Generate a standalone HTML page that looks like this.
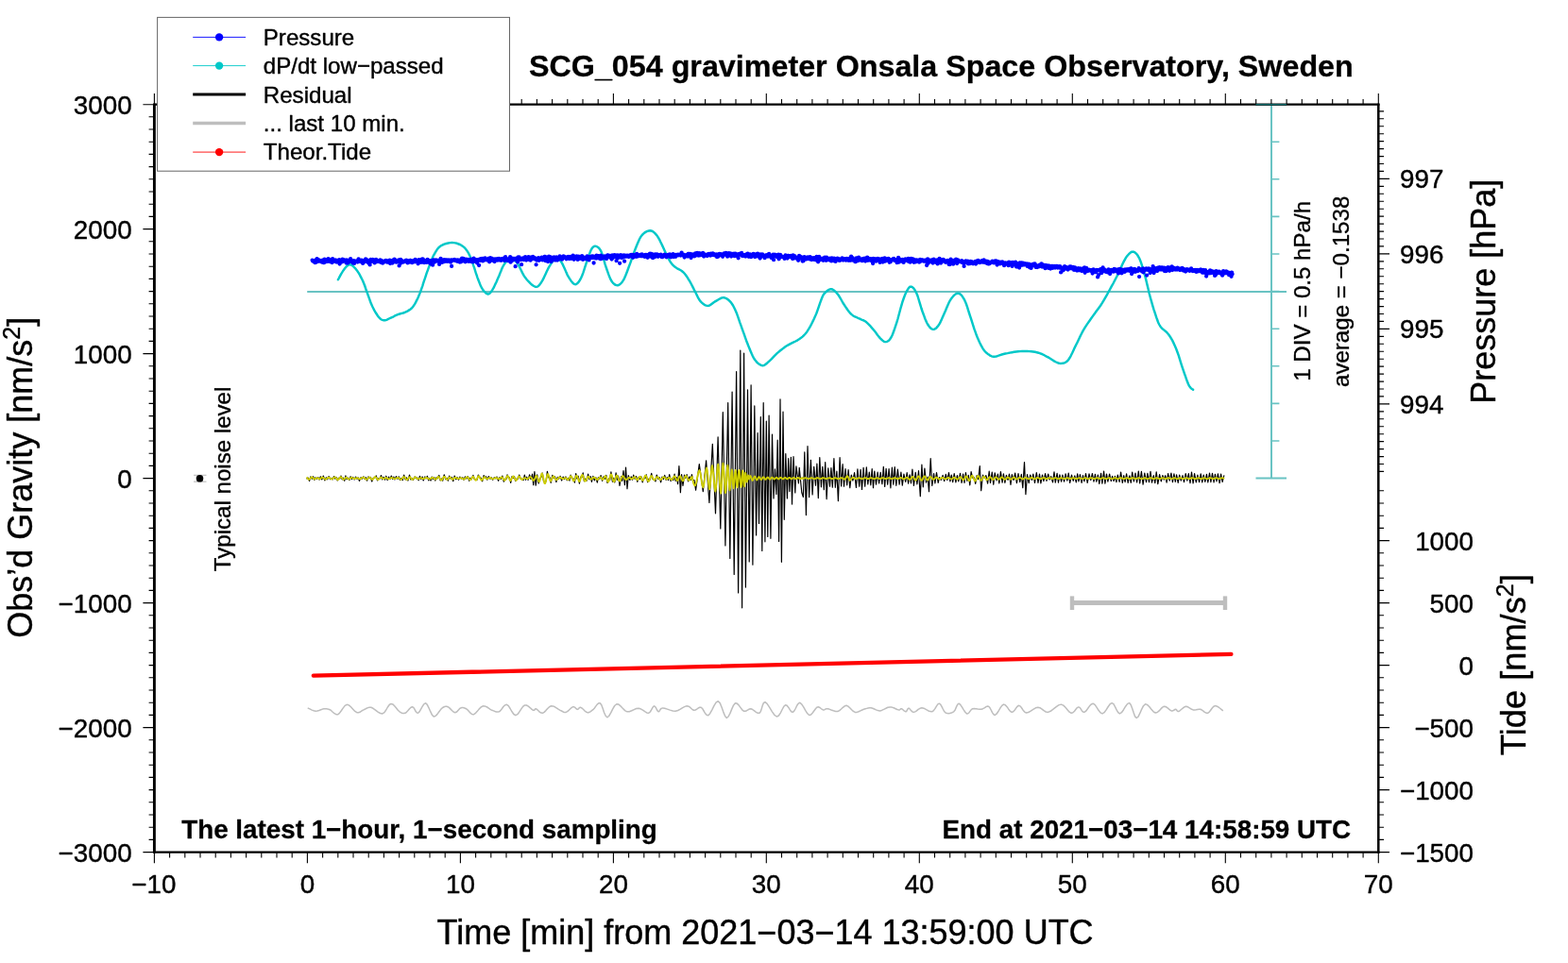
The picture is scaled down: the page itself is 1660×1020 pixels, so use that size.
<!DOCTYPE html>
<html lang="en"><head><meta charset="utf-8"><title>SCG_054 gravimeter Onsala Space Observatory, Sweden</title>
<style>html,body{margin:0;padding:0;background:#fff;}body{width:1660px;height:1020px;overflow:hidden;}svg{display:block;}text{font-family:"Liberation Sans", Arial, Helvetica, sans-serif;fill:#000;stroke:#000;stroke-width:0.4px;stroke-linejoin:round;}.b{stroke-width:0.3px}.l{stroke-width:0.55px}.s{stroke-width:0.35px}</style></head><body>
<svg width="1660" height="1020" viewBox="0 0 1660 1020">
<rect width="1660" height="1020" fill="#fff"/>
<g stroke="#69c3c3" stroke-width="2" fill="none">
<line x1="325.2" y1="309" x2="1362" y2="309"/>
<line x1="1346" y1="110.7" x2="1346" y2="506.6"/>
<line x1="1329.5" y1="110.9" x2="1362" y2="110.9"/>
<line x1="1329.5" y1="506.6" x2="1362" y2="506.6"/>
<path d="M1346 150.2h8.4M1346 189.8h8.4M1346 229.4h8.4M1346 269h8.4M1346 308.6h8.4M1346 348.2h8.4M1346 387.8h8.4M1346 427.4h8.4M1346 467h8.4" stroke-width="1.6"/>
</g>
<polyline points="357.9,296.1 358.7,294.8 359.7,292.9 360.9,290.7 362.2,288.5 363.5,286.4 364.7,284.8 365.7,283.5 366.7,282.4 367.7,281.5 368.6,280.8 369.6,280.4 370.6,280.3 371.7,280.6 372.8,281.1 373.9,282 375,283.1 376.2,284.3 377.3,285.7 378.5,287.3 379.7,289.2 380.9,291.2 382,293.4 383.1,295.5 384.1,297.5 384.9,299.4 385.6,301.2 386.3,303 386.9,304.8 387.5,306.8 388.3,308.9 389.2,311.3 390.1,313.9 391.1,316.7 392.1,319.5 393.1,322.1 394.2,324.5 395.3,326.7 396.4,328.9 397.6,331 398.8,332.8 399.9,334.5 401,335.9 402,337 403,337.9 403.9,338.5 404.8,338.9 405.8,339.2 406.9,339.3 408.1,339.2 409.3,338.8 410.6,338.2 411.9,337.5 413.2,336.9 414.4,336.3 415.6,335.8 416.7,335.3 417.7,334.7 418.8,334.2 420,333.7 421.2,333.2 422.5,332.7 423.9,332.3 425.4,331.9 426.9,331.5 428.3,331 429.6,330.4 430.8,329.8 432.1,329.1 433.2,328.4 434.3,327.7 435.4,326.8 436.4,325.8 437.3,324.7 438.2,323.4 439.1,322.1 439.9,320.7 440.6,319.2 441.4,317.7 442.1,316.2 442.8,314.7 443.5,313.1 444.2,311.4 444.9,309.6 445.6,307.6 446.4,305.3 447.3,302.8 448.1,300.1 449,297.4 449.9,294.8 450.7,292.4 451.4,290.2 452.1,288.2 452.8,286.3 453.5,284.4 454.2,282.5 454.9,280.6 455.7,278.6 456.5,276.5 457.3,274.5 458.1,272.5 459,270.6 460,268.8 461,267.1 461.9,265.6 462.9,264.1 464,262.7 465.3,261.5 466.7,260.4 468.4,259.5 470.3,258.7 472.4,258 474.5,257.5 476.6,257.1 478.5,257 480.3,257.1 482.1,257.4 483.9,257.8 485.6,258.5 487.2,259.2 488.7,260 490,260.9 491.3,261.9 492.4,263 493.4,264.2 494.4,265.6 495.4,267.1 496.3,268.8 497.2,270.6 498.1,272.5 498.9,274.5 499.7,276.7 500.5,278.9 501.3,281.3 502.2,283.8 503,286.5 503.8,289.2 504.7,291.7 505.5,294.1 506.3,296.3 507.2,298.5 508,300.6 508.8,302.6 509.7,304.3 510.6,305.9 511.5,307.3 512.5,308.6 513.6,309.7 514.6,310.6 515.6,311.2 516.5,311.5 517.4,311.4 518.2,311 519,310.2 519.8,309.3 520.6,308.1 521.5,306.7 522.4,305.1 523.4,303.1 524.4,300.9 525.5,298.7 526.5,296.3 527.5,294.1 528.5,291.8 529.4,289.4 530.4,287 531.3,284.6 532.3,282.5 533.4,280.6 534.5,278.9 535.7,277.4 536.9,276 538.1,274.9 539.3,274.2 540.5,273.8 541.7,273.8 542.8,274.2 544,275 545.2,276 546.4,277.3 547.7,278.9 549,280.9 550.3,283.4 551.7,286.2 553.1,289.1 554.6,291.8 556.1,294.1 557.8,296.2 559.6,298.2 561.5,300.1 563.3,301.8 565.1,303 566.6,303.7 567.9,303.9 569,303.6 570,302.9 571,301.9 572,300.6 573,299.2 574.1,297.4 575.3,295.2 576.4,292.7 577.6,290.2 578.7,287.8 579.7,285.7 580.6,283.9 581.5,282.3 582.4,280.9 583.2,279.5 584,278.3 584.8,277.2 585.6,276.1 586.4,275 587.1,274.1 587.9,273.3 588.7,272.9 589.5,272.8 590.4,273.1 591.3,273.8 592.2,274.7 593.1,275.9 594.1,277.3 595.1,278.9 596.1,280.9 597.2,283.3 598.4,285.9 599.5,288.6 600.6,291.1 601.8,293.2 603,295.1 604.2,296.9 605.4,298.5 606.6,299.9 607.8,300.8 608.9,301.2 610,301 611.1,300.3 612.2,299.2 613.2,297.8 614.3,296 615.3,294.1 616.3,291.8 617.3,289.1 618.3,286.1 619.3,282.9 620.3,279.9 621.2,277.2 622.1,274.6 623,272.1 623.8,269.6 624.7,267.3 625.5,265.3 626.3,263.7 627.1,262.5 627.9,261.7 628.6,261.1 629.4,260.8 630.2,260.8 631,260.9 631.9,261.2 632.8,261.7 633.7,262.4 634.6,263.4 635.5,264.7 636.4,266.3 637.2,268.4 638.1,270.9 638.9,273.7 639.7,276.6 640.5,279.6 641.4,282.3 642.3,285 643.3,287.8 644.3,290.6 645.3,293.2 646.3,295.6 647.3,297.5 648.4,299 649.4,300.2 650.5,301.2 651.6,301.8 652.7,302.1 653.8,302.2 654.9,302 655.9,301.4 656.9,300.6 658,299.5 659,298.2 660,296.6 661,294.8 662,292.6 662.9,290.3 663.9,287.7 664.9,285 665.9,282.3 667,279.4 668.1,276.3 669.2,273 670.3,269.7 671.5,266.6 672.6,263.7 673.7,261 674.8,258.3 675.9,255.7 677,253.3 678.1,251.2 679.4,249.4 680.8,247.9 682.2,246.6 683.8,245.6 685.3,244.9 686.8,244.5 688.2,244.3 689.5,244.5 690.8,245 692,245.8 693.2,246.9 694.3,248.1 695.4,249.4 696.4,250.9 697.4,252.5 698.4,254.3 699.3,256.3 700.3,258.3 701.3,260.4 702.4,262.7 703.5,265.2 704.7,267.8 705.9,270.3 707,272.7 708.1,274.7 709.1,276.4 710,277.8 710.9,279 711.8,280.1 712.8,281.2 714,282.3 715.4,283.3 716.9,284.3 718.5,285.1 720.2,286 721.8,287 723.2,288.2 724.5,289.5 725.7,291 726.8,292.5 727.9,294.1 728.9,295.8 730,297.5 731,299.3 732,301.2 733,303.1 734,305.1 734.9,307 735.9,308.9 736.9,310.8 737.8,312.7 738.7,314.6 739.7,316.4 740.7,318 741.8,319.4 743,320.6 744.2,321.7 745.5,322.6 746.8,323.3 748.1,323.7 749.4,323.9 750.7,323.7 751.9,323.1 753.1,322.2 754.4,321.2 755.7,320.2 757,319.4 758.4,318.6 759.9,317.7 761.4,316.8 762.9,316 764.3,315.4 765.7,315.2 767,315.3 768.3,315.8 769.5,316.4 770.7,317.3 771.9,318.3 773,319.4 774.1,320.6 775,322 776,323.5 776.9,325.3 777.9,327.3 778.9,329.5 780,332.1 781.1,335.1 782.2,338.3 783.3,341.6 784.5,344.9 785.6,348.1 786.7,351.2 787.9,354.4 789,357.6 790.1,360.7 791.3,363.8 792.4,366.6 793.5,369.3 794.6,372 795.7,374.6 796.8,377 797.9,379.1 799.1,381 800.4,382.6 801.7,384.1 803.1,385.3 804.5,386.2 805.9,386.9 807.2,387.2 808.4,387.1 809.6,386.6 810.7,385.8 811.9,384.8 813.1,383.7 814.3,382.6 815.6,381.4 816.9,380.1 818.3,378.6 819.7,377.1 821.2,375.6 822.7,374.2 824.3,372.8 825.8,371.5 827.5,370.2 829.2,368.9 831,367.6 832.9,366.3 835,365.1 837.3,363.9 839.8,362.7 842.2,361.5 844.4,360.3 846.4,359 848.1,357.8 849.6,356.6 850.9,355.3 852.2,354 853.5,352.5 854.8,350.6 856.2,348.4 857.7,345.9 859.1,343.2 860.5,340.4 861.9,337.5 863.2,334.6 864.5,331.5 865.7,328.1 866.9,324.7 868,321.4 869.1,318.4 870,316 870.7,314.3 871.3,313 871.8,312.1 872.2,311.4 872.8,310.8 873.5,310.1 874.4,309.2 875.5,308.3 876.6,307.4 877.8,306.7 879,306.3 880.2,306.2 881.3,306.5 882.5,307.2 883.6,308.1 884.7,309.2 885.9,310.4 887,311.8 888.1,313.3 889.2,315.1 890.3,317 891.4,319 892.5,321 893.7,322.8 894.9,324.6 896.2,326.5 897.4,328.3 898.7,330 900,331.6 901.3,332.9 902.6,333.9 903.8,334.7 905,335.4 906.3,335.9 907.6,336.5 908.9,337.1 910.3,337.7 911.6,338.3 913,338.9 914.5,339.5 915.9,340.3 917.3,341.3 918.7,342.6 920.2,344.1 921.7,345.7 923.1,347.4 924.5,349 925.8,350.6 927,352.1 928.2,353.7 929.3,355.2 930.4,356.6 931.5,357.9 932.5,359 933.5,359.9 934.4,360.7 935.3,361.4 936.1,361.8 937,362.1 937.9,362.1 938.8,361.9 939.7,361.5 940.7,360.9 941.6,360 942.5,358.8 943.5,357.3 944.5,355.3 945.4,353 946.4,350.3 947.4,347.4 948.4,344.4 949.4,341.3 950.4,338 951.4,334.3 952.4,330.5 953.4,326.8 954.4,323.3 955.3,320.2 956.2,317.5 957.1,315 957.9,312.8 958.8,310.8 959.6,309.1 960.4,307.6 961.2,306.3 961.9,305.2 962.6,304.4 963.3,303.8 964.1,303.6 964.9,303.7 965.8,304.1 966.7,304.9 967.6,305.9 968.6,307.3 969.5,309 970.5,311 971.5,313.5 972.4,316.5 973.4,319.8 974.4,323.2 975.4,326.5 976.4,329.5 977.4,332.2 978.4,334.9 979.3,337.5 980.3,339.9 981.3,342 982.3,343.8 983.3,345.3 984.3,346.6 985.2,347.6 986.2,348.3 987.2,348.7 988.2,348.9 989.2,348.7 990.2,348.2 991.2,347.5 992.1,346.4 993.1,345.2 994.1,343.8 995.1,342.2 996,340.2 997,338.1 998,335.8 999,333.5 1000,331.2 1001.1,328.8 1002.1,326.3 1003.2,323.7 1004.4,321.1 1005.5,318.8 1006.7,316.9 1007.9,315.2 1009.2,313.7 1010.5,312.4 1011.8,311.4 1013.1,310.8 1014.3,310.6 1015.5,310.9 1016.7,311.6 1017.8,312.7 1018.9,314.1 1020,315.8 1021.1,317.7 1022.1,319.9 1023.1,322.5 1024.1,325.3 1025,328.4 1026,331.5 1027,334.6 1028.1,337.8 1029.2,341.3 1030.3,344.9 1031.4,348.4 1032.6,351.7 1033.7,354.8 1034.8,357.6 1036,360.3 1037.1,362.8 1038.3,365.1 1039.4,367.2 1040.5,369.1 1041.6,370.7 1042.6,372 1043.7,373.1 1044.7,374 1045.8,374.9 1046.8,375.6 1047.8,376.3 1048.8,376.8 1049.7,377.3 1050.7,377.6 1051.8,377.8 1053,377.8 1054.3,377.6 1055.7,377.2 1057.2,376.7 1058.8,376.1 1060.6,375.5 1062.4,375 1064.4,374.5 1066.7,374.1 1069,373.6 1071.4,373.2 1073.7,372.8 1075.9,372.5 1078,372.3 1080,372.1 1081.9,372 1083.8,371.9 1085.8,371.9 1087.7,372 1089.7,372.1 1091.7,372.3 1093.7,372.5 1095.7,372.8 1097.6,373.2 1099.5,373.7 1101.3,374.3 1103.1,375 1104.8,375.8 1106.4,376.7 1108,377.6 1109.6,378.4 1111.1,379.3 1112.6,380.2 1114.1,381.2 1115.4,382.1 1116.8,382.9 1118,383.5 1119.1,384 1120.1,384.4 1121.1,384.8 1122,384.9 1123,385 1124,384.9 1125.1,384.7 1126.2,384.5 1127.4,384.1 1128.5,383.5 1129.8,382.6 1131,381.2 1132.3,379.3 1133.7,376.8 1135.1,374 1136.5,371 1137.8,368.1 1139.2,365.3 1140.5,362.7 1141.8,360 1143,357.4 1144.3,354.8 1145.6,352.2 1147,349.6 1148.5,347.1 1150.1,344.6 1151.8,342.1 1153.5,339.7 1155.2,337.3 1156.9,334.9 1158.6,332.6 1160.2,330.3 1161.9,328 1163.6,325.7 1165.2,323.5 1166.7,321.2 1168.1,318.9 1169.4,316.7 1170.7,314.4 1172,312.1 1173.2,309.8 1174.5,307.5 1175.8,305.1 1177.1,302.7 1178.5,300.3 1179.8,297.8 1181.1,295.3 1182.4,292.7 1183.7,289.9 1185.1,286.9 1186.5,283.9 1187.8,281 1189.1,278.3 1190.2,276.1 1191.2,274.3 1192,272.9 1192.8,271.8 1193.6,270.8 1194.3,270 1195.1,269.2 1195.9,268.4 1196.7,267.7 1197.5,267.1 1198.3,266.7 1199.1,266.6 1200,266.7 1200.9,267.1 1201.9,267.8 1202.9,268.6 1203.9,269.8 1204.9,271.3 1205.9,273.1 1206.9,275.3 1207.9,277.9 1208.9,280.9 1209.8,284.1 1210.8,287.4 1211.8,290.8 1212.8,294.4 1213.7,298.3 1214.7,302.4 1215.7,306.5 1216.6,310.5 1217.6,314.3 1218.6,317.9 1219.6,321.4 1220.6,324.8 1221.6,328.1 1222.6,331.1 1223.5,333.9 1224.3,336.4 1225.1,338.5 1225.8,340.5 1226.5,342.3 1227.4,344 1228.4,345.7 1229.7,347.3 1231.1,348.6 1232.7,349.9 1234.3,351.2 1235.8,352.7 1237.3,354.5 1238.7,356.5 1240,358.6 1241.3,360.9 1242.5,363.4 1243.8,366.2 1245.1,369.2 1246.4,372.7 1247.8,376.7 1249.1,380.9 1250.4,385.1 1251.7,389.1 1252.9,392.7 1254,395.9 1255.1,398.9 1256.1,401.8 1257,404.3 1257.9,406.5 1258.8,408.4 1259.7,409.8 1260.5,410.8 1261.3,411.5 1262,412 1262.7,412.4 1263.1,412.7" fill="none" stroke="#00c8c8" stroke-width="2.45" stroke-linejoin="round" stroke-linecap="round"/>
<path d="M330.6 275.6h0M331.1 276.5h0M331.6 276.1h0M332.1 276.1h0M332.6 276.6h0M333.1 277.7h0M333.6 278.2h0M334.1 276h0M334.6 275.1h0M335.1 277.5h0M335.6 274.2h0M336.1 276.7h0M336.6 276.4h0M337.1 276.5h0M337.6 275.5h0M338.1 276.6h0M338.6 276.7h0M339.1 276.3h0M339.6 276.6h0M340.1 276.2h0M340.6 277.6h0M341.1 276.4h0M341.6 275.9h0M342.1 275.4h0M342.6 278.2h0M343.1 278.2h0M343.6 274.7h0M344.1 276.4h0M344.6 276.5h0M345.1 276.7h0M345.6 277h0M346.1 276h0M346.6 274.8h0M347.1 276.8h0M347.6 274.1h0M348.1 276.7h0M348.6 276.3h0M349.1 275.2h0M349.6 275.4h0M350.1 277.4h0M350.6 276.4h0M351.1 277.1h0M351.6 278.1h0M352.1 274.2h0M352.6 276.1h0M353.1 276.5h0M353.6 276h0M354.1 276.7h0M354.6 276.5h0M355.1 275.3h0M355.6 276.1h0M356.1 277.6h0M356.6 275.9h0M357.1 276.6h0M357.6 276h0M358.1 277.6h0M358.6 275.7h0M359.1 275.1h0M359.6 279.5h0M360.1 277.1h0M360.6 275.7h0M361.1 276.1h0M361.6 276.7h0M362.1 277.4h0M362.6 274.6h0M363.1 276.6h0M363.6 275.6h0M364.1 275.1h0M364.6 276.6h0M365.1 276.2h0M365.6 275.9h0M366.1 276.3h0M366.6 278.6h0M367.1 275.3h0M367.6 277.3h0M368.1 278.6h0M368.6 276h0M369.1 276.8h0M369.6 276h0M370.1 275.7h0M370.6 277.1h0M371.1 274.1h0M371.6 275.5h0M372.1 276.3h0M372.6 277.1h0M373.1 276.1h0M373.6 278.6h0M374.1 276.3h0M374.6 276.1h0M375.1 278.9h0M375.6 277.4h0M376.1 276.6h0M376.6 276.6h0M377.1 277.1h0M377.6 276.7h0M378.1 276.3h0M378.6 277.5h0M379.1 275.5h0M379.6 274.3h0M380.1 276.8h0M380.6 276h0M381.1 275.9h0M381.6 277h0M382.1 275.9h0M382.6 277.4h0M383.1 275.7h0M383.6 275.9h0M384.1 278.9h0M384.6 276.5h0M385.1 277.8h0M385.6 276.7h0M386.1 276.4h0M386.6 276h0M387.1 274.4h0M387.6 276.9h0M388.1 275.5h0M388.6 275.5h0M389.1 275.7h0M389.6 275.8h0M390.1 278.5h0M390.6 276.7h0M391.1 277.6h0M391.6 280.4h0M392.1 276.4h0M392.6 275h0M393.1 277h0M393.6 275.2h0M394.1 275.8h0M394.6 274.8h0M395.1 275.9h0M395.6 275.8h0M396.1 276.4h0M396.6 278.4h0M397.1 277.8h0M397.6 275.9h0M398.1 274.9h0M398.6 275.5h0M399.1 277.1h0M399.6 276.2h0M400.1 276.9h0M400.6 276.7h0M401.1 277h0M401.6 276.6h0M402.1 276.7h0M402.6 275.3h0M403.1 277.8h0M403.6 275.9h0M404.1 276.9h0M404.6 276.9h0M405.1 278.7h0M405.6 277.4h0M406.1 277h0M406.6 276.7h0M407.1 277.3h0M407.6 277.2h0M408.1 277h0M408.6 275.8h0M409.1 277.4h0M409.6 277.6h0M410.1 276.3h0M410.6 277.5h0M411.1 276.8h0M411.6 276.2h0M412.1 276.4h0M412.6 275.7h0M413.1 279.1h0M413.6 276.1h0M414.1 276.1h0M414.6 278h0M415.1 276.5h0M415.6 278.5h0M416.1 277.7h0M416.6 276.6h0M417.1 275h0M417.6 274.6h0M418.1 275.3h0M418.6 276.7h0M419.1 277.5h0M419.6 277.7h0M420.1 277h0M420.6 277.4h0M421.1 276.5h0M421.6 277.1h0M422.1 275.3h0M422.6 281.4h0M423.1 275.7h0M423.6 275.5h0M424.1 274.8h0M424.6 278.5h0M425.1 275.9h0M425.6 276.1h0M426.1 276.6h0M426.6 276.9h0M427.1 277.5h0M427.6 276.8h0M428.1 276.9h0M428.6 276.8h0M429.1 276.4h0M429.6 276h0M430.1 275.6h0M430.6 277.4h0M431.1 276.9h0M431.6 278.4h0M432.1 276.3h0M432.6 277.9h0M433.1 276.8h0M433.6 276.3h0M434.1 275.8h0M434.6 276h0M435.1 277.3h0M435.6 277.3h0M436.1 278.2h0M436.6 278h0M437.1 277.4h0M437.6 276.1h0M438.1 277h0M438.6 277h0M439.1 277.3h0M439.6 274.9h0M440.1 276.8h0M440.6 276.9h0M441.1 276.5h0M441.6 277.1h0M442.1 276.1h0M442.6 279.3h0M443.1 275.5h0M443.6 275.2h0M444.1 277.9h0M444.6 276.7h0M445.1 275.5h0M445.6 277.8h0M446.1 276.7h0M446.6 274.6h0M447.1 277.5h0M447.6 274.5h0M448.1 276.2h0M448.6 277.8h0M449.1 278.2h0M449.6 275.8h0M450.1 276.4h0M450.6 276.3h0M451.1 277.5h0M451.6 277.9h0M452.1 276.3h0M452.6 274.8h0M453.1 277.5h0M453.6 276h0M454.1 276h0M454.6 276.7h0M455.1 277.4h0M455.6 279.3h0M456.1 276.2h0M456.6 277.1h0M457.1 276.6h0M457.6 276.4h0M458.1 280.7h0M458.6 275.4h0M459.1 276.4h0M459.6 275.7h0M460.1 277.5h0M460.6 276.8h0M461.1 275.5h0M461.6 276.7h0M462.1 276.1h0M462.6 275.6h0M463.1 276.4h0M463.6 276.8h0M464.1 276.8h0M464.6 276h0M465.1 279.9h0M465.6 277.8h0M466.1 274.9h0M466.6 273.9h0M467.1 276.9h0M467.6 276.3h0M468.1 277.9h0M468.6 277.3h0M469.1 276.7h0M469.6 276.5h0M470.1 275.2h0M470.6 277.1h0M471.1 275.5h0M471.6 276.1h0M472.1 275.7h0M472.6 276.1h0M473.1 275.3h0M473.6 276.9h0M474.1 276.5h0M474.6 275.7h0M475.1 275.3h0M475.6 275.9h0M476.1 276.6h0M476.6 277.1h0M477.1 277.7h0M477.6 275.4h0M478.1 281.9h0M478.6 275.3h0M479.1 275.6h0M479.6 275.5h0M480.1 275.6h0M480.6 275.6h0M481.1 274.8h0M481.6 275.8h0M482.1 276.1h0M482.6 275.7h0M483.1 276.4h0M483.6 275.6h0M484.1 276.8h0M484.6 275.3h0M485.1 275.7h0M485.6 276.8h0M486.1 275.6h0M486.6 277.5h0M487.1 276.2h0M487.6 275.4h0M488.1 277.3h0M488.6 276.1h0M489.1 273.6h0M489.6 274.1h0M490.1 276.2h0M490.6 274h0M491.1 275.3h0M491.6 276h0M492.1 277.1h0M492.6 277.3h0M493.1 274.6h0M493.6 275.7h0M494.1 274.9h0M494.6 275.7h0M495.1 275.8h0M495.6 274.8h0M496.1 276.9h0M496.6 276.7h0M497.1 275.7h0M497.6 275h0M498.1 274.9h0M498.6 274.8h0M499.1 277.2h0M499.6 276.7h0M500.1 274.6h0M500.6 277.4h0M501.1 275.7h0M501.6 273.7h0M502.1 274.8h0M502.6 275.6h0M503.1 275.7h0M503.6 277h0M504.1 275.5h0M504.6 275.2h0M505.1 278.6h0M505.6 275.2h0M506.1 275.4h0M506.6 276.3h0M507.1 281h0M507.6 275.4h0M508.1 274.4h0M508.6 275.8h0M509.1 275.3h0M509.6 274.8h0M510.1 273.8h0M510.6 275.1h0M511.1 276.4h0M511.6 273.9h0M512.1 274.3h0M512.6 273.8h0M513.1 275.3h0M513.6 273.3h0M514.1 274.8h0M514.6 275h0M515.1 275.4h0M515.6 274.8h0M516.1 274.7h0M516.6 275.6h0M517.1 274.9h0M517.6 273.6h0M518.1 277.3h0M518.6 275.7h0M519.1 273.2h0M519.6 274.2h0M520.1 274.8h0M520.6 273.7h0M521.1 275.9h0M521.6 274.3h0M522.1 274.3h0M522.6 275.2h0M523.1 275h0M523.6 277.1h0M524.1 274.4h0M524.6 275.3h0M525.1 274.5h0M525.6 274.7h0M526.1 274.3h0M526.6 275.7h0M527.1 274.1h0M527.6 274.1h0M528.1 273.9h0M528.6 275.3h0M529.1 275.3h0M529.6 275.6h0M530.1 275h0M530.6 275.8h0M531.1 274.1h0M531.6 274.7h0M532.1 274.4h0M532.6 273.8h0M533.1 273.7h0M533.6 274.1h0M534.1 276h0M534.6 272.8h0M535.1 272.2h0M535.6 274h0M536.1 274.6h0M536.6 274.2h0M537.1 274.5h0M537.6 276.1h0M538.1 274.5h0M538.6 276.2h0M539.1 274.5h0M539.6 274.1h0M540.1 272.2h0M540.6 277.7h0M541.1 274.5h0M541.6 274.7h0M542.1 276h0M542.6 273.6h0M543.1 275.2h0M543.6 275.3h0M544.1 274.9h0M544.6 274h0M545.1 274.8h0M545.6 282.2h0M546.1 275.2h0M546.6 275.2h0M547.1 273.5h0M547.6 276.3h0M548.1 277.4h0M548.6 272.4h0M549.1 274.7h0M549.6 272.5h0M550.1 274.9h0M550.6 273.9h0M551.1 274.2h0M551.6 275.2h0M552.1 280.2h0M552.6 273.8h0M553.1 274.5h0M553.6 273.4h0M554.1 274.1h0M554.6 275h0M555.1 274.1h0M555.6 274.9h0M556.1 272.1h0M556.6 273.1h0M557.1 275.6h0M557.6 273.3h0M558.1 274.1h0M558.6 274.2h0M559.1 274h0M559.6 272.2h0M560.1 274.3h0M560.6 275.2h0M561.1 275h0M561.6 275.7h0M562.1 274.1h0M562.6 272.5h0M563.1 274.1h0M563.6 274h0M564.1 271.8h0M564.6 273.3h0M565.1 274h0M565.6 272.8h0M566.1 274.1h0M566.6 273.7h0M567.1 273.9h0M567.6 280.3h0M568.1 275.5h0M568.6 275.5h0M569.1 274.4h0M569.6 273.4h0M570.1 273.1h0M570.6 275.8h0M571.1 273.6h0M571.6 274.4h0M572.1 275h0M572.6 274.6h0M573.1 273.9h0M573.6 272.7h0M574.1 272.9h0M574.6 275.4h0M575.1 273.5h0M575.6 274.2h0M576.1 273.9h0M576.6 272h0M577.1 272h0M577.6 276.2h0M578.1 272.7h0M578.6 273.1h0M579.1 275.4h0M579.6 273.3h0M580.1 277h0M580.6 274.6h0M581.1 271.6h0M581.6 274.3h0M582.1 272.3h0M582.6 272.6h0M583.1 272.3h0M583.6 277h0M584.1 273.5h0M584.6 273.4h0M585.1 272.8h0M585.6 273.3h0M586.1 272.9h0M586.6 272.4h0M587.1 275.4h0M587.6 274.2h0M588.1 274.1h0M588.6 275.4h0M589.1 272.3h0M589.6 273.1h0M590.1 275.6h0M590.6 273.9h0M591.1 273.2h0M591.6 273.1h0M592.1 274.4h0M592.6 271.4h0M593.1 272h0M593.6 273h0M594.1 272.5h0M594.6 273h0M595.1 274.7h0M595.6 273.6h0M596.1 271.8h0M596.6 271.4h0M597.1 271.6h0M597.6 272.9h0M598.1 272.7h0M598.6 272.4h0M599.1 273.2h0M599.6 274.3h0M600.1 274.1h0M600.6 273.1h0M601.1 272.1h0M601.6 272h0M602.1 273.2h0M602.6 274h0M603.1 272.5h0M603.6 272h0M604.1 273.2h0M604.6 273.9h0M605.1 272.8h0M605.6 273.2h0M606.1 271.8h0M606.6 270.6h0M607.1 271.1h0M607.6 274.8h0M608.1 272.6h0M608.6 273.9h0M609.1 272.1h0M609.6 273h0M610.1 272.5h0M610.6 271.4h0M611.1 272.8h0M611.6 274.9h0M612.1 273.2h0M612.6 271.6h0M613.1 272.4h0M613.6 273.1h0M614.1 273.9h0M614.6 273.6h0M615.1 273.4h0M615.6 272.2h0M616.1 271.1h0M616.6 274.3h0M617.1 274.9h0M617.6 272.9h0M618.1 273.5h0M618.6 272.7h0M619.1 273.5h0M619.6 273.3h0M620.1 272.6h0M620.6 274.4h0M621.1 272.4h0M621.6 271.3h0M622.1 271.7h0M622.6 271.8h0M623.1 274.4h0M623.6 275.4h0M624.1 272.8h0M624.6 273.3h0M625.1 271.8h0M625.6 272.2h0M626.1 272.7h0M626.6 271.5h0M627.1 273h0M627.6 271.3h0M628.1 272.2h0M628.6 278.5h0M629.1 273h0M629.6 272h0M630.1 271.7h0M630.6 272.4h0M631.1 273.5h0M631.6 270.6h0M632.1 272h0M632.6 273.1h0M633.1 273.3h0M633.6 271.2h0M634.1 271.4h0M634.6 271.8h0M635.1 272.6h0M635.6 274.2h0M636.1 270.7h0M636.6 274h0M637.1 272.2h0M637.6 273.3h0M638.1 273.2h0M638.6 272.4h0M639.1 271.7h0M639.6 273.3h0M640.1 271.4h0M640.6 272.7h0M641.1 272.6h0M641.6 273.1h0M642.1 274h0M642.6 272.7h0M643.1 270.4h0M643.6 270.4h0M644.1 271.6h0M644.6 271.8h0M645.1 272.2h0M645.6 271h0M646.1 272.8h0M646.6 272.2h0M647.1 270.9h0M647.6 274.5h0M648.1 270.4h0M648.6 273.2h0M649.1 271.8h0M649.6 271.6h0M650.1 271.1h0M650.6 270.2h0M651.1 271.8h0M651.6 271.8h0M652.1 271.2h0M652.6 276.2h0M653.1 270.4h0M653.6 273.4h0M654.1 270.4h0M654.6 272.9h0M655.1 271.5h0M655.6 270.9h0M656.1 278.8h0M656.6 270.8h0M657.1 270.1h0M657.6 271h0M658.1 273h0M658.6 271.3h0M659.1 270.7h0M659.6 271.3h0M660.1 272.3h0M660.6 270.3h0M661.1 276.7h0M661.6 271.7h0M662.1 270.6h0M662.6 270.9h0M663.1 271.7h0M663.6 270.9h0M664.1 271.4h0M664.6 270.7h0M665.1 270.9h0M665.6 272h0M666.1 270.7h0M666.6 271.7h0M667.1 270.9h0M667.6 271.4h0M668.1 270h0M668.6 270.7h0M669.1 269.9h0M669.6 270.5h0M670.1 272.8h0M670.6 270h0M671.1 272h0M671.6 271.6h0M672.1 270.9h0M672.6 271h0M673.1 269.9h0M673.6 271.8h0M674.1 269h0M674.6 271.5h0M675.1 271h0M675.6 271.3h0M676.1 271.2h0M676.6 270.5h0M677.1 270.4h0M677.6 269.9h0M678.1 271.2h0M678.6 271.1h0M679.1 271h0M679.6 269.5h0M680.1 271.2h0M680.6 270.4h0M681.1 270.5h0M681.6 271h0M682.1 270.3h0M682.6 271.9h0M683.1 270h0M683.6 270.7h0M684.1 269.8h0M684.6 271h0M685.1 270.8h0M685.6 272.8h0M686.1 269.9h0M686.6 270h0M687.1 270h0M687.6 270.2h0M688.1 268.7h0M688.6 271.5h0M689.1 270.9h0M689.6 269h0M690.1 271.4h0M690.6 270.8h0M691.1 273.2h0M691.6 269.7h0M692.1 271.7h0M692.6 271.5h0M693.1 272.2h0M693.6 269.4h0M694.1 270.8h0M694.6 270.2h0M695.1 270.5h0M695.6 269.4h0M696.1 270.5h0M696.6 271.8h0M697.1 270.5h0M697.6 270.1h0M698.1 271h0M698.6 270.1h0M699.1 270.3h0M699.6 269.7h0M700.1 270.7h0M700.6 272.2h0M701.1 270.4h0M701.6 272h0M702.1 271.4h0M702.6 270.6h0M703.1 271.1h0M703.6 269.6h0M704.1 271.3h0M704.6 271.2h0M705.1 270.4h0M705.6 272.3h0M706.1 271.5h0M706.6 270.4h0M707.1 269.9h0M707.6 270.7h0M708.1 270.3h0M708.6 271.5h0M709.1 269.4h0M709.6 270h0M710.1 272.4h0M710.6 270.6h0M711.1 271h0M711.6 271.2h0M712.1 270h0M712.6 269.2h0M713.1 272h0M713.6 270.4h0M714.1 270.1h0M714.6 271.1h0M715.1 271.9h0M715.6 269.9h0M716.1 270.5h0M716.6 270.5h0M717.1 269.8h0M717.6 269.6h0M718.1 270.4h0M718.6 270.2h0M719.1 269.9h0M719.6 269.6h0M720.1 270.1h0M720.6 270.5h0M721.1 269.3h0M721.6 267.6h0M722.1 269.5h0M722.6 270.1h0M723.1 269.6h0M723.6 269.6h0M724.1 270.1h0M724.6 272.5h0M725.1 270.2h0M725.6 270.7h0M726.1 271h0M726.6 270.2h0M727.1 269.9h0M727.6 269.8h0M728.1 271.6h0M728.6 269h0M729.1 269h0M729.6 271h0M730.1 270.7h0M730.6 269h0M731.1 269.6h0M731.6 273.1h0M732.1 271.7h0M732.6 270.5h0M733.1 269.5h0M733.6 270.8h0M734.1 270.5h0M734.6 269.6h0M735.1 271.4h0M735.6 270.2h0M736.1 268.4h0M736.6 270.5h0M737.1 270.2h0M737.6 268.5h0M738.1 267.9h0M738.6 270.4h0M739.1 268.3h0M739.6 270.5h0M740.1 268.2h0M740.6 270h0M741.1 270.3h0M741.6 269.4h0M742.1 269.8h0M742.6 268.6h0M743.1 269.3h0M743.6 270.3h0M744.1 268h0M744.6 270.4h0M745.1 271.5h0M745.6 269.3h0M746.1 269.5h0M746.6 270.4h0M747.1 270.4h0M747.6 270.2h0M748.1 270.2h0M748.6 271.1h0M749.1 269.8h0M749.6 269.5h0M750.1 269h0M750.6 269.3h0M751.1 269.9h0M751.6 269.4h0M752.1 270.7h0M752.6 268.7h0M753.1 270.2h0M753.6 269.3h0M754.1 269.4h0M754.6 268.5h0M755.1 268.6h0M755.6 270.1h0M756.1 269.7h0M756.6 270h0M757.1 270.5h0M757.6 269.7h0M758.1 269.4h0M758.6 270.5h0M759.1 272.2h0M759.6 270h0M760.1 269.4h0M760.6 271.5h0M761.1 269.5h0M761.6 268.8h0M762.1 269.8h0M762.6 269.2h0M763.1 269.6h0M763.6 269.5h0M764.1 269.9h0M764.6 270.1h0M765.1 271.8h0M765.6 269.2h0M766.1 269.3h0M766.6 268.3h0M767.1 269.5h0M767.6 268.8h0M768.1 268.9h0M768.6 268h0M769.1 269.9h0M769.6 269.9h0M770.1 271.7h0M770.6 269.5h0M771.1 269.2h0M771.6 268.1h0M772.1 268.9h0M772.6 269.7h0M773.1 268.5h0M773.6 269.5h0M774.1 271.6h0M774.6 268.9h0M775.1 268.8h0M775.6 269.5h0M776.1 269.5h0M776.6 270.3h0M777.1 268.7h0M777.6 271.2h0M778.1 271.1h0M778.6 268.7h0M779.1 269.4h0M779.6 269.5h0M780.1 270.6h0M780.6 270.4h0M781.1 272.1h0M781.6 273.3h0M782.1 269.2h0M782.6 269h0M783.1 269.8h0M783.6 269.3h0M784.1 269.3h0M784.6 268.8h0M785.1 267.8h0M785.6 270.4h0M786.1 271.2h0M786.6 269.9h0M787.1 270.2h0M787.6 270.3h0M788.1 271h0M788.6 269.8h0M789.1 271.6h0M789.6 270.8h0M790.1 269.5h0M790.6 271h0M791.1 270.4h0M791.6 268.6h0M792.1 269.2h0M792.6 271.8h0M793.1 269.8h0M793.6 269.8h0M794.1 269.3h0M794.6 271.7h0M795.1 272.2h0M795.6 270.1h0M796.1 269.7h0M796.6 270.5h0M797.1 269.6h0M797.6 269h0M798.1 270.1h0M798.6 270.3h0M799.1 272.1h0M799.6 271.3h0M800.1 269.3h0M800.6 271.5h0M801.1 270.4h0M801.6 268.9h0M802.1 268.7h0M802.6 271.4h0M803.1 271.5h0M803.6 270.3h0M804.1 270.3h0M804.6 273.5h0M805.1 269.5h0M805.6 272.1h0M806.1 270.4h0M806.6 271.2h0M807.1 269.3h0M807.6 271h0M808.1 270.8h0M808.6 270.6h0M809.1 272h0M809.6 273.2h0M810.1 271.1h0M810.6 270.4h0M811.1 270.3h0M811.6 270.3h0M812.1 270.3h0M812.6 271.6h0M813.1 271.6h0M813.6 271h0M814.1 268.9h0M814.6 270.7h0M815.1 271.6h0M815.6 271.1h0M816.1 271.5h0M816.6 273h0M817.1 270.5h0M817.6 272.8h0M818.1 272.7h0M818.6 269.7h0M819.1 275.2h0M819.6 271.1h0M820.1 269.7h0M820.6 270.8h0M821.1 270.4h0M821.6 271.4h0M822.1 270.6h0M822.6 272.2h0M823.1 271.5h0M823.6 271.6h0M824.1 269.6h0M824.6 274.3h0M825.1 271.8h0M825.6 271.4h0M826.1 269.9h0M826.6 271.9h0M827.1 272h0M827.6 271.6h0M828.1 271.6h0M828.6 272.2h0M829.1 272.3h0M829.6 272.2h0M830.1 272.2h0M830.6 273.9h0M831.1 272.7h0M831.6 270.4h0M832.1 272.9h0M832.6 272.5h0M833.1 272.1h0M833.6 273.5h0M834.1 271h0M834.6 270.8h0M835.1 271.6h0M835.6 271.6h0M836.1 271.8h0M836.6 272h0M837.1 271h0M837.6 271.1h0M838.1 271h0M838.6 271.3h0M839.1 274h0M839.6 270.3h0M840.1 272.5h0M840.6 272.8h0M841.1 273.4h0M841.6 271.3h0M842.1 273.2h0M842.6 272.7h0M843.1 273.6h0M843.6 273.4h0M844.1 273.4h0M844.6 274.2h0M845.1 275.8h0M845.6 273.2h0M846.1 271h0M846.6 273.8h0M847.1 271.6h0M847.6 273.1h0M848.1 272.9h0M848.6 272.3h0M849.1 272.9h0M849.6 276.5h0M850.1 273.1h0M850.6 276.3h0M851.1 273.9h0M851.6 272.1h0M852.1 274.7h0M852.6 273.5h0M853.1 272.7h0M853.6 273.9h0M854.1 274.3h0M854.6 272.8h0M855.1 272.4h0M855.6 273.1h0M856.1 273.8h0M856.6 272.6h0M857.1 274.4h0M857.6 272.2h0M858.1 274.6h0M858.6 273.3h0M859.1 275h0M859.6 273.3h0M860.1 273.4h0M860.6 274h0M861.1 273.4h0M861.6 274.8h0M862.1 273.2h0M862.6 273.9h0M863.1 274.3h0M863.6 275.3h0M864.1 275.2h0M864.6 271.8h0M865.1 273.5h0M865.6 274.3h0M866.1 277.3h0M866.6 275.7h0M867.1 271.8h0M867.6 275.5h0M868.1 274.1h0M868.6 273.7h0M869.1 274.7h0M869.6 274.4h0M870.1 274h0M870.6 273.8h0M871.1 275.6h0M871.6 275.8h0M872.1 273.7h0M872.6 274.7h0M873.1 272.6h0M873.6 274.9h0M874.1 274.6h0M874.6 275.8h0M875.1 272.6h0M875.6 273.8h0M876.1 274.4h0M876.6 275.1h0M877.1 274.6h0M877.6 274.6h0M878.1 275.3h0M878.6 273.7h0M879.1 274.5h0M879.6 274.6h0M880.1 276.4h0M880.6 273.5h0M881.1 275.8h0M881.6 275.2h0M882.1 274.4h0M882.6 276.2h0M883.1 273.6h0M883.6 275.1h0M884.1 275h0M884.6 276.9h0M885.1 274.7h0M885.6 274.8h0M886.1 275.1h0M886.6 273.6h0M887.1 274h0M887.6 274.3h0M888.1 274.2h0M888.6 275.9h0M889.1 275.9h0M889.6 275.1h0M890.1 274.7h0M890.6 274.6h0M891.1 274.3h0M891.6 273.4h0M892.1 275h0M892.6 275.6h0M893.1 275.1h0M893.6 274.9h0M894.1 274.6h0M894.6 274.2h0M895.1 275.4h0M895.6 275.7h0M896.1 274.4h0M896.6 273.9h0M897.1 275.3h0M897.6 275.5h0M898.1 274.3h0M898.6 275.8h0M899.1 273.9h0M899.6 273.6h0M900.1 275.8h0M900.6 275h0M901.1 271.7h0M901.6 275.4h0M902.1 275.7h0M902.6 273.2h0M903.1 274.6h0M903.6 274.9h0M904.1 275.7h0M904.6 275.9h0M905.1 277h0M905.6 275.9h0M906.1 277h0M906.6 273.5h0M907.1 274.5h0M907.6 273.9h0M908.1 274.9h0M908.6 276h0M909.1 272.7h0M909.6 275.3h0M910.1 274.4h0M910.6 275.2h0M911.1 274.8h0M911.6 275.7h0M912.1 274.5h0M912.6 276.2h0M913.1 276.1h0M913.6 274.1h0M914.1 274.7h0M914.6 274.5h0M915.1 273.6h0M915.6 275.5h0M916.1 276.5h0M916.6 275.1h0M917.1 274.3h0M917.6 275.2h0M918.1 272.6h0M918.6 275.8h0M919.1 275.2h0M919.6 275.7h0M920.1 273.8h0M920.6 274.5h0M921.1 274.6h0M921.6 274.2h0M922.1 276.1h0M922.6 275.3h0M923.1 274.2h0M923.6 274.3h0M924.1 279.1h0M924.6 273.8h0M925.1 276.2h0M925.6 274.5h0M926.1 274.1h0M926.6 274.8h0M927.1 276.5h0M927.6 276.5h0M928.1 275h0M928.6 275.5h0M929.1 273.9h0M929.6 274.1h0M930.1 275.3h0M930.6 276h0M931.1 274.5h0M931.6 277.9h0M932.1 276.1h0M932.6 276.1h0M933.1 275.7h0M933.6 274.6h0M934.1 273.9h0M934.6 277.6h0M935.1 276.9h0M935.6 276.2h0M936.1 274.6h0M936.6 273.3h0M937.1 276.7h0M937.6 276h0M938.1 274.1h0M938.6 275.3h0M939.1 274.8h0M939.6 275.6h0M940.1 275h0M940.6 274h0M941.1 274.7h0M941.6 277.8h0M942.1 274.8h0M942.6 277.4h0M943.1 275.4h0M943.6 275.8h0M944.1 275h0M944.6 274.8h0M945.1 274.8h0M945.6 274.4h0M946.1 273.8h0M946.6 275.1h0M947.1 275.9h0M947.6 274.8h0M948.1 275.2h0M948.6 275.8h0M949.1 276h0M949.6 278.2h0M950.1 276.7h0M950.6 275.3h0M951.1 272.8h0M951.6 277.7h0M952.1 275.1h0M952.6 275.7h0M953.1 275.4h0M953.6 274.9h0M954.1 276.5h0M954.6 275.6h0M955.1 276.1h0M955.6 274.8h0M956.1 275.1h0M956.6 277.9h0M957.1 275.4h0M957.6 275.4h0M958.1 275.3h0M958.6 274.5h0M959.1 275.7h0M959.6 275.6h0M960.1 274.8h0M960.6 276.1h0M961.1 276.5h0M961.6 273.9h0M962.1 276.9h0M962.6 277.3h0M963.1 274.6h0M963.6 277.7h0M964.1 274.8h0M964.6 273.8h0M965.1 276.3h0M965.6 275.4h0M966.1 275.8h0M966.6 274.3h0M967.1 275.4h0M967.6 277.8h0M968.1 275.2h0M968.6 275.4h0M969.1 277h0M969.6 277.3h0M970.1 275.9h0M970.6 275.5h0M971.1 276.1h0M971.6 275.8h0M972.1 276.9h0M972.6 275.8h0M973.1 277.7h0M973.6 275.5h0M974.1 274.9h0M974.6 275.3h0M975.1 276.5h0M975.6 275.8h0M976.1 275.4h0M976.6 275.5h0M977.1 276h0M977.6 276.6h0M978.1 276.4h0M978.6 276.6h0M979.1 275.6h0M979.6 276.5h0M980.1 275.8h0M980.6 276.2h0M981.1 281h0M981.6 277.4h0M982.1 274.5h0M982.6 278.8h0M983.1 275.3h0M983.6 276.5h0M984.1 275.8h0M984.6 275.7h0M985.1 277.1h0M985.6 276.3h0M986.1 276.2h0M986.6 276.6h0M987.1 275.1h0M987.6 278.6h0M988.1 276.4h0M988.6 274.6h0M989.1 276.3h0M989.6 276.4h0M990.1 275.7h0M990.6 277.5h0M991.1 278.1h0M991.6 277h0M992.1 275.5h0M992.6 279.4h0M993.1 275.6h0M993.6 275.1h0M994.1 276.3h0M994.6 273.8h0M995.1 276.7h0M995.6 278.2h0M996.1 278.5h0M996.6 277.6h0M997.1 275.6h0M997.6 275.5h0M998.1 276.2h0M998.6 274.8h0M999.1 275.5h0M999.6 276.8h0M1000.1 276.5h0M1000.6 276.9h0M1001.1 277.8h0M1001.6 276.7h0M1002.1 276.4h0M1002.6 276.1h0M1003.1 275.8h0M1003.6 276.4h0M1004.1 276.3h0M1004.6 279.9h0M1005.1 277.2h0M1005.6 280h0M1006.1 277.2h0M1006.6 274.7h0M1007.1 276.2h0M1007.6 276.3h0M1008.1 276.4h0M1008.6 276.1h0M1009.1 279.7h0M1009.6 277.1h0M1010.1 277.5h0M1010.6 275.7h0M1011.1 277.7h0M1011.6 277.4h0M1012.1 274.7h0M1012.6 276.3h0M1013.1 279h0M1013.6 277.5h0M1014.1 275.5h0M1014.6 276.9h0M1015.1 276.3h0M1015.6 277.1h0M1016.1 277.1h0M1016.6 277.2h0M1017.1 276.6h0M1017.6 276.5h0M1018.1 276.2h0M1018.6 277.9h0M1019.1 278.3h0M1019.6 277h0M1020.1 277.4h0M1020.6 281.9h0M1021.1 277.9h0M1021.6 277.8h0M1022.1 277.1h0M1022.6 276.5h0M1023.1 277.6h0M1023.6 278.2h0M1024.1 278.4h0M1024.6 276.7h0M1025.1 279.4h0M1025.6 277.3h0M1026.1 278.5h0M1026.6 278.2h0M1027.1 279.1h0M1027.6 276.9h0M1028.1 277.4h0M1028.6 277.2h0M1029.1 277.9h0M1029.6 278.4h0M1030.1 279.3h0M1030.6 278.1h0M1031.1 278.1h0M1031.6 278h0M1032.1 277.3h0M1032.6 277h0M1033.1 279.6h0M1033.6 277.8h0M1034.1 276.3h0M1034.6 277.7h0M1035.1 277.6h0M1035.6 275.9h0M1036.1 276.9h0M1036.6 277.1h0M1037.1 278h0M1037.6 277.2h0M1038.1 277.8h0M1038.6 277h0M1039.1 276.8h0M1039.6 276.2h0M1040.1 277.7h0M1040.6 277h0M1041.1 277.5h0M1041.6 275.3h0M1042.1 277.8h0M1042.6 276.9h0M1043.1 277.4h0M1043.6 278.3h0M1044.1 276.6h0M1044.6 277.3h0M1045.1 279.1h0M1045.6 276.8h0M1046.1 279.4h0M1046.6 278.3h0M1047.1 279.4h0M1047.6 277.8h0M1048.1 278.8h0M1048.6 277.9h0M1049.1 278h0M1049.6 277.7h0M1050.1 277.1h0M1050.6 276.7h0M1051.1 277.8h0M1051.6 277.6h0M1052.1 278.4h0M1052.6 277.2h0M1053.1 278.1h0M1053.6 276.4h0M1054.1 278.4h0M1054.6 276.4h0M1055.1 278.5h0M1055.6 280.6h0M1056.1 277h0M1056.6 278.7h0M1057.1 278.3h0M1057.6 278.1h0M1058.1 277.9h0M1058.6 279.4h0M1059.1 277.7h0M1059.6 277.8h0M1060.1 278.1h0M1060.6 278.8h0M1061.1 277.3h0M1061.6 278.6h0M1062.1 279.1h0M1062.6 278.3h0M1063.1 281.2h0M1063.6 279h0M1064.1 278.9h0M1064.6 278.4h0M1065.1 279h0M1065.6 278.9h0M1066.1 279.9h0M1066.6 278.7h0M1067.1 279.2h0M1067.6 281.2h0M1068.1 277.6h0M1068.6 278.7h0M1069.1 279.6h0M1069.6 279.2h0M1070.1 278.2h0M1070.6 280.3h0M1071.1 279.8h0M1071.6 281.9h0M1072.1 277.9h0M1072.6 280.1h0M1073.1 279.9h0M1073.6 278.6h0M1074.1 278.7h0M1074.6 280.4h0M1075.1 277.7h0M1075.6 279.5h0M1076.1 282.5h0M1076.6 279.8h0M1077.1 279.2h0M1077.6 280.1h0M1078.1 280.2h0M1078.6 280.9h0M1079.1 283.6h0M1079.6 278.4h0M1080.1 280.1h0M1080.6 280.3h0M1081.1 280.8h0M1081.6 278.4h0M1082.1 279.4h0M1082.6 280.7h0M1083.1 278.7h0M1083.6 280.1h0M1084.1 280h0M1084.6 280.4h0M1085.1 279.1h0M1085.6 279.6h0M1086.1 279.6h0M1086.6 279.9h0M1087.1 279.4h0M1087.6 281.9h0M1088.1 280.2h0M1088.6 281.3h0M1089.1 279.6h0M1089.6 282h0M1090.1 283.3h0M1090.6 280.6h0M1091.1 280.5h0M1091.6 283.9h0M1092.1 281.3h0M1092.6 281.8h0M1093.1 281.5h0M1093.6 280h0M1094.1 279.6h0M1094.6 280.3h0M1095.1 279.6h0M1095.6 279.4h0M1096.1 280.7h0M1096.6 282.9h0M1097.1 281.4h0M1097.6 281.9h0M1098.1 283h0M1098.6 281.6h0M1099.1 281.4h0M1099.6 281.5h0M1100.1 282.3h0M1100.6 280.6h0M1101.1 280.7h0M1101.6 281.6h0M1102.1 281.1h0M1102.6 279.4h0M1103.1 282.5h0M1103.6 280.5h0M1104.1 280.4h0M1104.6 282.6h0M1105.1 280.9h0M1105.6 281.3h0M1106.1 282h0M1106.6 284.2h0M1107.1 280.9h0M1107.6 281.9h0M1108.1 281.5h0M1108.6 282.6h0M1109.1 282h0M1109.6 281.4h0M1110.1 283.9h0M1110.6 282.9h0M1111.1 281.7h0M1111.6 282.1h0M1112.1 284.6h0M1112.6 283.1h0M1113.1 282.1h0M1113.6 281.8h0M1114.1 282h0M1114.6 283.8h0M1115.1 283.6h0M1115.6 282.9h0M1116.1 282h0M1116.6 283.3h0M1117.1 283.6h0M1117.6 283.2h0M1118.1 281.8h0M1118.6 282.6h0M1119.1 281.8h0M1119.6 283.6h0M1120.1 282.9h0M1120.6 283.3h0M1121.1 282.5h0M1121.6 283.6h0M1122.1 282.2h0M1122.6 282.3h0M1123.1 288.4h0M1123.6 283.7h0M1124.1 284.7h0M1124.6 284.1h0M1125.1 283.9h0M1125.6 286.3h0M1126.1 284.6h0M1126.6 284.4h0M1127.1 282.1h0M1127.6 283.4h0M1128.1 284.5h0M1128.6 282.9h0M1129.1 283.9h0M1129.6 284h0M1130.1 283.4h0M1130.6 285.5h0M1131.1 284h0M1131.6 284.5h0M1132.1 284.4h0M1132.6 282.4h0M1133.1 282.7h0M1133.6 282.4h0M1134.1 284.1h0M1134.6 284.3h0M1135.1 283.8h0M1135.6 283.8h0M1136.1 283h0M1136.6 284.2h0M1137.1 285.9h0M1137.6 284h0M1138.1 283.5h0M1138.6 284.6h0M1139.1 285.1h0M1139.6 284.6h0M1140.1 286.6h0M1140.6 286.4h0M1141.1 284.9h0M1141.6 284.2h0M1142.1 286.3h0M1142.6 285.3h0M1143.1 284.6h0M1143.6 284.4h0M1144.1 285.7h0M1144.6 285.5h0M1145.1 287.1h0M1145.6 285.5h0M1146.1 286.6h0M1146.6 286.5h0M1147.1 284.2h0M1147.6 286.2h0M1148.1 283.4h0M1148.6 288.8h0M1149.1 286.2h0M1149.6 287h0M1150.1 283.8h0M1150.6 284.9h0M1151.1 285.7h0M1151.6 287h0M1152.1 286h0M1152.6 285.9h0M1153.1 285.9h0M1153.6 286h0M1154.1 286.6h0M1154.6 286.4h0M1155.1 287h0M1155.6 286.1h0M1156.1 285.8h0M1156.6 289.6h0M1157.1 285.9h0M1157.6 285.4h0M1158.1 286h0M1158.6 287.1h0M1159.1 286.5h0M1159.6 287.2h0M1160.1 288.3h0M1160.6 286.6h0M1161.1 286h0M1161.6 286.7h0M1162.1 293.4h0M1162.6 286.2h0M1163.1 291.2h0M1163.6 286.2h0M1164.1 286.7h0M1164.6 286.1h0M1165.1 285.2h0M1165.6 285.9h0M1166.1 289.2h0M1166.6 286.5h0M1167.1 286.5h0M1167.6 283.5h0M1168.1 286.2h0M1168.6 287h0M1169.1 285.3h0M1169.6 286.1h0M1170.1 287.4h0M1170.6 287.8h0M1171.1 287.2h0M1171.6 286.6h0M1172.1 287.2h0M1172.6 288.4h0M1173.1 285.9h0M1173.6 285.5h0M1174.1 286.3h0M1174.6 286.9h0M1175.1 290h0M1175.6 286.3h0M1176.1 287.5h0M1176.6 286h0M1177.1 286.7h0M1177.6 286.2h0M1178.1 286.2h0M1178.6 287.7h0M1179.1 287.5h0M1179.6 284.8h0M1180.1 286.3h0M1180.6 287.1h0M1181.1 287.3h0M1181.6 285.7h0M1182.1 286.3h0M1182.6 286h0M1183.1 285.9h0M1183.6 285.5h0M1184.1 289.4h0M1184.6 287.3h0M1185.1 286.1h0M1185.6 284.8h0M1186.1 286h0M1186.6 285.6h0M1187.1 286.7h0M1187.6 289.3h0M1188.1 285.7h0M1188.6 287.2h0M1189.1 286.1h0M1189.6 286.4h0M1190.1 287.6h0M1190.6 287.9h0M1191.1 285.4h0M1191.6 286.2h0M1192.1 285.7h0M1192.6 285.5h0M1193.1 286.5h0M1193.6 286.2h0M1194.1 285.2h0M1194.6 285.4h0M1195.1 286.2h0M1195.6 286.8h0M1196.1 286.6h0M1196.6 285h0M1197.1 284.3h0M1197.6 284.3h0M1198.1 290.1h0M1198.6 288h0M1199.1 285.9h0M1199.6 288h0M1200.1 286.1h0M1200.6 285.2h0M1201.1 284.9h0M1201.6 287h0M1202.1 287.8h0M1202.6 286.4h0M1203.1 286.8h0M1203.6 285.8h0M1204.1 286.3h0M1204.6 287h0M1205.1 286.5h0M1205.6 284.2h0M1206.1 293.1h0M1206.6 286h0M1207.1 285.4h0M1207.6 285.3h0M1208.1 286.3h0M1208.6 285.9h0M1209.1 287.5h0M1209.6 285.2h0M1210.1 284.4h0M1210.6 288.4h0M1211.1 285h0M1211.6 285h0M1212.1 286h0M1212.6 285.8h0M1213.1 285h0M1213.6 284.3h0M1214.1 291.6h0M1214.6 285.5h0M1215.1 285.9h0M1215.6 284.7h0M1216.1 284.3h0M1216.6 285.6h0M1217.1 285.2h0M1217.6 289.1h0M1218.1 285.2h0M1218.6 286.7h0M1219.1 286h0M1219.6 286.9h0M1220.1 285.7h0M1220.6 282.1h0M1221.1 285.9h0M1221.6 289.1h0M1222.1 283.9h0M1222.6 285.5h0M1223.1 286.1h0M1223.6 285.1h0M1224.1 284.3h0M1224.6 285.2h0M1225.1 287.1h0M1225.6 283.6h0M1226.1 285.8h0M1226.6 285.1h0M1227.1 284.3h0M1227.6 283.2h0M1228.1 285.4h0M1228.6 285.4h0M1229.1 285.3h0M1229.6 283.4h0M1230.1 285.5h0M1230.6 283.4h0M1231.1 284.6h0M1231.6 283.9h0M1232.1 284.4h0M1232.6 283.6h0M1233.1 287.2h0M1233.6 284.3h0M1234.1 284.7h0M1234.6 287.1h0M1235.1 285.5h0M1235.6 285.2h0M1236.1 283.5h0M1236.6 283.2h0M1237.1 283.9h0M1237.6 284.7h0M1238.1 286.8h0M1238.6 283.9h0M1239.1 284.4h0M1239.6 285.2h0M1240.1 283h0M1240.6 282.5h0M1241.1 286h0M1241.6 284.3h0M1242.1 284.7h0M1242.6 284h0M1243.1 283.9h0M1243.6 284.4h0M1244.1 285.6h0M1244.6 285.3h0M1245.1 284.3h0M1245.6 284.3h0M1246.1 285.5h0M1246.6 283.6h0M1247.1 284.4h0M1247.6 284.3h0M1248.1 285h0M1248.6 284.8h0M1249.1 286h0M1249.6 285.8h0M1250.1 284.5h0M1250.6 285.6h0M1251.1 285.3h0M1251.6 284h0M1252.1 285.9h0M1252.6 286.4h0M1253.1 286.7h0M1253.6 285.2h0M1254.1 285.8h0M1254.6 285.8h0M1255.1 287.5h0M1255.6 286.3h0M1256.1 285.4h0M1256.6 285.1h0M1257.1 285.4h0M1257.6 286.1h0M1258.1 285.9h0M1258.6 285.7h0M1259.1 286.8h0M1259.6 286.8h0M1260.1 286.6h0M1260.6 286.4h0M1261.1 284.4h0M1261.6 286.6h0M1262.1 286.4h0M1262.6 287h0M1263.1 286.5h0M1263.6 286.2h0M1264.1 287.1h0M1264.6 286.7h0M1265.1 286h0M1265.6 287.1h0M1266.1 286.4h0M1266.6 287.9h0M1267.1 285.8h0M1267.6 287.5h0M1268.1 286.9h0M1268.6 287.1h0M1269.1 286.1h0M1269.6 287.2h0M1270.1 285.9h0M1270.6 285.9h0M1271.1 285.7h0M1271.6 285.6h0M1272.1 287.4h0M1272.6 288.6h0M1273.1 287.5h0M1273.6 288.6h0M1274.1 286h0M1274.6 288.7h0M1275.1 286.8h0M1275.6 288.9h0M1276.1 286.2h0M1276.6 287.6h0M1277.1 292.6h0M1277.6 287.8h0M1278.1 289.2h0M1278.6 288.5h0M1279.1 289.3h0M1279.6 287.9h0M1280.1 289.4h0M1280.6 287.2h0M1281.1 286.3h0M1281.6 287.8h0M1282.1 289.1h0M1282.6 288.3h0M1283.1 287.3h0M1283.6 287.4h0M1284.1 287.7h0M1284.6 288.3h0M1285.1 289.6h0M1285.6 287.9h0M1286.1 291.9h0M1286.6 288.9h0M1287.1 291.1h0M1287.6 287.2h0M1288.1 288.7h0M1288.6 288.8h0M1289.1 288.9h0M1289.6 288.2h0M1290.1 287.8h0M1290.6 287.7h0M1291.1 289.2h0M1291.6 288.6h0M1292.1 288.8h0M1292.6 289.2h0M1293.1 290.1h0M1293.6 288.5h0M1294.1 291.7h0M1294.6 288.3h0M1295.1 287.2h0M1295.6 288.7h0M1296.1 288.6h0M1296.6 289.3h0M1297.1 289h0M1297.6 288.9h0M1298.1 287.3h0M1298.6 288.6h0M1299.1 289.4h0M1299.6 289.5h0M1300.1 288.3h0M1300.6 289.9h0M1301.1 291.2h0M1301.6 289.4h0M1302.1 289.5h0M1302.6 289.6h0M1303.1 288.9h0M1303.6 292.8h0M1304.1 288.7h0M1304.6 290.3h0" fill="none" stroke="#0000ff" stroke-width="4.3" stroke-linecap="round"/>
<polyline points="324.5,507.3 326.1,506.1 327.6,509.4 328.8,504.9 330.3,507.2 331.6,504.7 332.8,508.4 334,505.8 335.3,507.2 336.8,505.6 338,508.1 339.4,504.8 340.8,507.9 342.3,504 343.8,508.9 345.4,505.8 346.6,507.8 348.1,504.6 349.6,507.7 350.9,506.3 352.2,507.8 353.6,504.6 354.7,507.1 355.9,505.4 357.2,509 358.4,506.3 359.8,506.9 361,504 362.2,507.9 363.4,506.2 364.7,509.3 365.9,503.9 367.1,507.7 368.5,506.1 369.9,508.5 371.1,504.7 372.4,507.5 373.6,505.4 375.1,508 376.6,505.1 378,507.3 379.2,505.9 380.4,509.4 382,505.7 383.3,507.2 384.9,504.8 386.2,507.5 387.4,505.7 388.6,509.2 389.9,504.8 391.2,506.6 392.4,505.5 393.7,510 395.3,506.3 396.9,506 398.3,503.9 399.5,508.9 400.8,506.7 402.2,507 403.5,503.5 404.6,507.9 406,505.3 407.6,508.2 408.8,504.2 410.1,508.6 411.5,505.1 413,507.5 414.3,504 415.7,507.5 416.8,505 417.9,508 419.5,504.5 421,507.3 422.2,504.8 423.5,508.5 424.7,506.7 426.3,508.5 427.7,503.2 429.2,508 430.4,505.9 431.9,509 433.5,503.1 434.9,508 436.3,506.9 437.5,508.3 439.1,504.9 440.4,506.7 441.6,505.9 443.1,508.8 444.4,504.3 445.8,507.5 447.1,505 448.2,509 449.8,504.9 451.1,506.8 452.4,504.4 453.7,508.9 454.8,506.4 456,509.1 457.2,505 458.3,507.5 459.7,505.6 460.8,509.1 462,505.8 463.3,506.6 464.8,503.5 466.1,508.9 467.3,507 468.7,509.2 470.2,502.8 471.8,507.7 473.1,506.5 474.4,509.2 475.6,504.1 477.2,507.1 478.4,505.4 479.8,509.7 481.2,504 482.8,507.8 484,505.6 485.5,508.2 486.9,505 488.3,507 489.8,505.8 491,508.3 492.4,504.9 493.8,507 495.3,504.7 496.7,509.3 497.9,506.2 499.3,507.5 500.9,503.4 502.3,507.7 503.8,507.7 505,508.3 506.3,503.1 507.6,505.8 509,506.1 510.6,509.8 512.2,503.5 513.4,506.2 514.6,504.8 515.8,508.2 517.4,504.6 519,507.2 520.2,505.8 521.7,508.3 523.2,505.7 524.8,506.8 526,505 527.6,509.3 528.9,505.6 530.4,507.3 531.9,504.1 533.3,510.2 534.6,507.4 535.8,507.8 537,502.8 538.2,506 539.4,505.9 540.7,511.3 542,504.5 543.3,506.4 544.5,504.7 545.7,509.4 547.2,506.8 548.4,507.2 549.7,503 551.2,507.4 552.5,507.2 554.1,508.7 555.3,503 556.5,508.3 557.6,505.2 559.1,508.4 560.6,502.9 562.1,507.7 563.6,502.1 564.7,513.6 565.9,499.6 567.2,514.1 568.7,502.8 570.2,512 571.5,506.6 573.1,505.2 574.3,501 575.4,509.2 576.6,511.1 578.1,509.8 579.4,499.4 580.8,505.9 582,505.6 583.2,511.4 584.8,503.3 586.1,506.5 587.6,504.9 588.9,510.7 590.3,505.4 591.7,507.1 593.1,504.3 594.6,509 596.2,505.1 597.6,507.5 598.9,504.9 600.3,508.8 601.7,506.4 602.9,509.1 604.1,503.1 605.4,506.8 606.8,506.5 608.4,511.1 609.7,501.6 610.9,507 612.1,504.2 613.4,512.1 614.7,505.2 615.9,505.8 617.2,500.8 618.4,509.7 619.7,507.1 621.2,509.1 622.6,502.1 623.9,507.8 625.2,504.6 626.4,510.3 627.8,504.3 629.3,508.9 630.9,505.9 632.3,511.1 633.4,505.6 634.7,507.2 636.1,503.5 637.6,509.3 639.1,504.7 640.7,507.3 641.8,503.4 643,511.5 644.6,506.8 645.7,508.4 646.9,499.8 648.4,510.2 649.6,506.3 650.8,511 652.1,500.9 653.3,508.3 654.6,504.1 656,514.3 657.6,504.7 658.8,509.3 660,498.6 661.4,513.6 662.5,495.1 664,517.6 665.3,503.6 666.9,508.5 668.2,504.9 669.6,508.2 670.7,503.1 672.1,507.2 673.5,504.6 674.8,510.3 676,505.6 677.4,507.5 678.8,504.7 680.2,510.9 681.5,506.3 683,506.7 684.3,502.8 685.6,510.7 686.9,507.1 688.3,507.9 689.7,501.3 691.1,507.6 692.6,507.5 694,509.9 695.2,503 696.8,507.5 698.2,505.7 699.6,510.8 700.9,505.1 702.4,507.6 703.7,503.3 705.1,508.4 706.3,505.6 707.5,508.6 708.7,502.7 710.1,509.6 711.3,506.9 712.8,508.6 714.1,502.2 715.2,509.4 716.4,505.6 717.6,512.6 718.9,493.6 720.4,521.6 721.6,502.6 723,514.5 724.5,503 725.7,506.5 727.1,502.6 728.5,509.8 729.9,504.8 731.3,508.5 732.4,502.6 733.8,508.7 735,508.6 736.6,519.1 740.3,491.6 744.3,520.6 747.6,487.9 750.9,532.4 754.3,470.3 757.5,543.8 760.1,462.9 762.8,560 765.3,436.5 767.9,577.9 770.7,426.5 772.8,591.5 775.1,415.1 777.2,608.5 779.6,393.5 781.6,627.9 783.8,371 785.6,643.8 787.6,374 789.4,622.1 791.5,412.9 793.2,594.9 795.1,407.8 796.9,598.2 798.8,429.9 800.6,566.9 802.1,458.5 803.5,554.4 805.3,441.6 806.8,583.4 808.2,426.5 809.9,573.8 811.3,446 812.8,568.4 814.1,440.1 815.9,570.3 817.5,460 819,527.9 820.4,496.8 821.9,523.5 823.2,466.2 824.6,573.5 826,422.9 827.4,595.3 829,436.2 830.3,550.3 831.8,480.6 833.4,527.9 834.7,485.7 835.9,520.6 837.4,484.3 838.5,534.1 840,483.5 841.8,522 842.9,493.8 845.4,511.8 846.2,495.3 848.8,521.8 850.4,526.5 851.8,478.8 853.4,545.6 855,472.6 856.6,526.6 858.4,487.3 860.1,523.9 861.7,494.4 863.5,514.2 864.9,491.2 866.3,527.6 867.8,484.6 869.4,515.8 870.8,494.4 872.3,518.7 873.7,489.6 875.1,528.6 876.8,495.9 878.5,515.2 879.9,495.5 881.3,516.1 882.9,485.6 884.3,516.3 885.9,499 887.4,530.6 889.1,484.6 890.6,515 892.1,491.7 893.5,515.2 895,496.6 896.7,513.8 898.1,497.5 899.8,516.6 901.3,503.1 902.9,509.1 904.6,500.5 906.4,516.5 907.9,496.8 909.7,515.1 911.1,497.3 912.5,518.5 914.1,495.4 915.7,515.2 917.3,494.9 918.8,513 920.3,500.1 921.8,513.8 923.2,496.5 924.5,516.6 925.8,499 927.5,513.1 929.1,500.2 930.6,511.9 932.2,500.3 933.9,512.6 935.3,494.3 936.7,515.5 938.1,496.3 939.7,513.2 941.1,496.5 942.9,516.8 944.4,495.2 945.8,513.2 947.2,494.6 948.8,514.3 950.4,497.2 952.1,513.1 953.9,500.2 955.3,514.1 956.9,502 958.7,510.5 960.2,500.7 961.6,512.1 963,502.9 964.5,511.8 965.9,497 967.4,514.5 969.2,500.3 970.9,512.8 972.5,498.7 974.3,525.6 975.9,492.2 977.3,515.8 978.9,496.1 980.5,511.1 982.1,505.1 983.5,520.6 985.2,485.6 986.8,514.5 988.6,501.6 989.9,512 991.5,500.5 993.2,511.3 994.6,505.5 996.3,508.4 998.1,503.4 999.7,509.6 1001.3,502.3 1002.8,508.5 1004.5,500.7 1005.9,509.9 1007.3,503.1 1008.7,510.6 1010.2,501.5 1011.9,510.9 1013.4,503.5 1014.8,509.9 1016.5,501.4 1018.1,511.3 1019.6,502.1 1021,511.3 1022.4,500.5 1023.9,509.4 1025.3,503.3 1026.8,513.8 1028.1,499.7 1029.6,506.1 1031.4,505.8 1032.7,512.3 1034.1,503.7 1035.6,507.8 1037.3,493.6 1038.7,519.6 1040.5,503.2 1042.1,506.1 1043.9,503.7 1045.6,512.1 1047.2,499.2 1048.5,511.5 1050.3,500.2 1051.8,513.3 1053.2,500.9 1055,509 1056.4,502.1 1057.8,512 1059.4,499.6 1061.1,511.2 1062.4,501.8 1063.9,511.4 1065.4,503.4 1067,508.4 1068.5,502.2 1070,513.4 1071.3,502.7 1073.1,508.5 1074.7,501 1076.4,511.7 1078,501.6 1079.8,510.6 1081.3,502.4 1082.8,516.6 1084.5,489.6 1085.9,523.6 1087.5,502.6 1089.2,511.7 1090.7,503 1092.5,508.5 1093.8,502 1095.5,511.4 1097.3,500.5 1099,511.3 1100.5,502.2 1101.9,512 1103.5,503.1 1104.9,509.7 1106.6,501.7 1108,509.3 1109.7,502.2 1111.2,508 1112.7,504.6 1114.5,510.9 1116,499.8 1117.3,511.1 1119.1,501.4 1120.5,511.2 1121.9,502.8 1123.6,510.2 1124.9,503.2 1126.6,510.1 1128.1,501.8 1129.8,509.1 1131.2,501.2 1132.7,511.3 1134.5,503.2 1136.2,509.3 1137.8,503.9 1139.3,511 1140.7,501.8 1142,510 1143.4,502.7 1145.1,511.5 1146.5,503.6 1147.9,509.8 1149.5,501.6 1151.2,511.4 1153,501.8 1154.8,508.6 1156.4,501.5 1158,510.2 1159.4,502.3 1160.8,510.2 1162.4,503 1163.8,512.4 1165.6,501.4 1166.9,512.1 1168.6,499.2 1169.9,512.1 1171.5,502 1172.9,510.1 1174.6,502 1176.3,509.7 1177.6,504.4 1179.1,509.6 1180.4,504.3 1181.9,510.7 1183.3,503 1185.1,510.3 1186.6,500.2 1188.3,511.4 1189.7,503.6 1191.1,510.6 1192.6,501.8 1194.2,511.3 1195.8,503.9 1197.3,511.3 1198.7,500 1200.4,509.9 1202,501 1203.6,510.9 1205.3,499.1 1206.7,512 1208.4,499.3 1210.1,513.1 1211.8,501.2 1213.5,510.6 1214.9,501.4 1216.5,510.6 1218,499.4 1219.5,511.2 1221.3,503.6 1222.8,511.7 1224.2,499.8 1225.8,512.7 1227.6,502.6 1229.3,509.8 1230.9,503.5 1232.3,508.1 1233.7,503.7 1235.1,511.1 1236.6,501.6 1238.2,509.1 1239.9,501.2 1241.4,510.7 1242.9,501.9 1244.3,510.3 1245.6,502.8 1247.2,511.4 1248.7,503.1 1250.3,509.2 1252,503.6 1253.5,510.6 1255.2,501.6 1256.8,509.2 1258.3,501.6 1260,511.7 1261.5,500.2 1263.1,512 1264.6,501.7 1266.3,510.8 1267.9,503.2 1269.6,510.6 1271.2,501.9 1272.8,510.8 1274.2,503.1 1275.8,510.3 1277.4,502.4 1278.8,511 1280.5,501 1281.9,510.6 1283.5,501.4 1285.1,510.8 1286.4,502.4 1288,509.8 1289.4,501.9 1291.1,511.7 1292.6,502.1 1294.1,510.5 1295.9,503.3" fill="none" stroke="#000" stroke-width="1.2" stroke-linejoin="round"/>
<polyline points="324.5,505.5 325.2,506.2 326,507.1 326.8,507.8 327.5,507.7 328.2,507 329,506.1 329.8,505.4 330.5,505.5 331.2,506.2 332,507 332.8,507.5 333.5,507.4 334.2,506.8 335,506.3 335.8,506.1 336.5,506.3 337.2,506.9 338,507.3 338.8,507.2 339.5,506.7 340.2,506.1 341,505.7 341.8,505.7 342.5,506.3 343.2,506.9 344,507.5 344.8,507.6 345.5,507.3 346.2,506.7 347,506.1 347.8,505.8 348.5,505.9 349.2,506.4 350,506.9 350.8,507.4 351.5,507.5 352.2,507 353,506.3 353.8,505.6 354.5,505.4 355.2,505.8 356,506.7 356.8,507.7 357.5,508.2 358.2,507.9 359,507 359.8,505.8 360.5,505.1 361.2,505.3 362,506.1 362.8,507.1 363.5,507.7 364.2,507.6 365,506.9 365.8,506.1 366.5,505.7 367.2,506 368,506.7 368.8,507.4 369.5,507.6 370.2,507.2 371,506.5 371.8,505.9 372.5,505.8 373.2,506.2 374,506.7 374.8,507.1 375.5,507.1 376.2,506.7 377,506.3 377.8,506.1 378.5,506.2 379.2,506.7 380,507.2 380.8,507.4 381.5,507.3 382.2,506.9 383,506.3 383.8,505.8 384.5,505.6 385.2,505.8 386,506.4 386.8,507.1 387.5,507.7 388.2,507.7 389,507.3 389.8,506.4 390.5,505.7 391.2,505.5 392,505.9 392.8,506.8 393.5,507.7 394.2,508 395,507.4 395.8,506.4 396.5,505.4 397.2,505 398,505.5 398.8,506.6 399.5,507.7 400.2,508.1 401,507.7 401.8,506.8 402.5,506 403.2,505.6 404,505.9 404.8,506.6 405.5,507.1 406.2,507.2 407,506.8 407.8,506.3 408.5,506 409.2,506.1 410,506.6 410.8,507.1 411.5,507.4 412.2,507.2 413,506.8 413.8,506.3 414.5,506 415.2,506.1 416,506.4 416.8,506.8 417.5,507.1 418.2,507.1 419,506.8 419.8,506.3 420.5,506 421.2,505.9 422,506.2 422.8,506.8 423.5,507.5 424.2,507.9 425,507.7 425.8,506.9 426.5,505.9 427.2,505.2 428,505.1 428.8,505.8 429.5,507 430.2,507.9 431,508.1 431.8,507.5 432.5,506.4 433.2,505.5 434,505.3 434.8,506 435.5,507 436.2,507.8 437,507.9 437.8,507.2 438.5,506.2 439.2,505.5 440,505.4 440.8,506 441.5,506.8 442.2,507.3 443,507.4 443.8,507 444.5,506.5 445.2,506.2 446,506.3 446.8,506.7 447.5,507 448.2,507.1 449,506.8 449.8,506.4 450.5,506 451.2,505.9 452,506.1 452.8,506.6 453.5,507.1 454.2,507.4 455,507.4 455.8,507.1 456.5,506.5 457.2,506 458,505.8 458.8,506 459.5,506.6 460.2,507.4 461,507.7 461.8,507.4 462.5,506.6 463.2,505.6 464,505 464.8,505.3 465.5,506.4 466.2,507.7 467,508.6 467.8,508.4 468.5,507.3 469.2,505.9 470,504.9 470.8,504.9 471.5,505.8 472.2,507.1 473,507.9 473.8,507.9 474.5,507.1 475.2,506.1 476,505.5 476.8,505.7 477.5,506.4 478.2,507.3 479,507.7 479.8,507.5 480.5,506.8 481.2,506.2 482,505.8 482.8,506 483.5,506.4 484.2,506.8 485,507 485.8,506.9 486.5,506.6 487.2,506.3 488,506.3 488.8,506.5 489.5,506.9 490.2,507.3 491,507.5 491.8,507.3 492.5,506.8 493.2,506 494,505.4 494.8,505.2 495.5,505.8 496.2,506.8 497,507.9 497.8,508.3 498.5,507.9 499.2,506.7 500,505.4 500.8,504.8 501.5,505.3 502.2,506.7 503,508.1 503.8,508.7 504.5,508.1 505.2,506.6 506,505 506.8,504.3 507.5,504.8 508.2,506.3 509,507.9 509.8,508.7 510.5,508.4 511.2,507.2 512,506 512.8,505.3 513.5,505.5 514.2,506.3 515,507.1 515.8,507.4 516.5,507.1 517.2,506.5 518,506 518.8,505.9 519.5,506.2 520.2,506.8 521,507.2 521.8,507.4 522.5,507.2 523.2,506.8 524,506.3 524.8,506 525.5,506.1 526.2,506.4 527,506.9 527.8,507.2 528.5,507.2 529.2,506.7 530,506 530.8,505.4 531.5,505.5 532.2,506.3 533,507.6 533.8,508.6 534.5,508.7 535.2,507.7 536,505.9 536.8,504.4 537.5,504 538.2,505 539,506.8 539.8,508.5 540.5,509.1 541.2,508.2 542,506.4 542.8,504.8 543.5,504.4 544.2,505.3 545,507 545.8,508.5 546.5,509 547.2,508.1 548,506.4 548.8,505 549.5,504.5 550.2,505 551,506.3 551.8,507.4 552.5,508 553.2,507.8 554,507.1 554.8,506.4 555.5,506.1 556.2,506.3 557,506.8 557.8,507.1 558.5,507.2 559.2,506.8 560,506.1 560.8,505.4 561.5,505.1 562.2,505.5 563,506.5 563.8,507.9 564.5,508.9 565.2,508.8 566,507.5 566.8,505.5 567.5,504 568.2,504.1 569,505.8 569.8,508.4 570.5,510.2 571.2,509.9 572,507.3 572.8,503.8 573.5,501.5 574.2,501.9 575,505.1 575.8,509.2 576.5,512.1 577.2,512.1 578,509.3 578.8,505.3 579.5,502.4 580.2,502.1 581,504.1 581.8,507.1 582.5,509.3 583.2,509.6 584,508.1 584.8,506 585.5,504.6 586.2,504.5 587,505.6 587.8,507.2 588.5,508.2 589.2,508.4 590,507.8 590.8,506.7 591.5,505.9 592.2,505.5 593,505.6 593.8,506.1 594.5,506.6 595.2,507 596,507.1 596.8,506.8 597.5,506.4 598.2,506.2 599,506.3 599.8,507 600.5,507.7 601.2,508.1 602,507.6 602.8,506.4 603.5,505 604.2,504.2 605,504.7 605.8,506.3 606.5,508.2 607.2,509.4 608,509 608.8,507.2 609.5,505 610.2,503.7 611,504.3 611.8,506.4 612.5,508.8 613.2,510 614,509.3 614.8,507 615.5,504.4 616.2,502.9 617,503.4 617.8,505.5 618.5,508 619.2,509.6 620,509.6 620.8,508.2 621.5,506.3 622.2,505 623,504.8 623.8,505.5 624.5,506.6 625.2,507.5 626,507.6 626.8,507.2 627.5,506.4 628.2,505.8 629,505.6 629.8,505.9 630.5,506.7 631.2,507.5 632,508 632.8,507.9 633.5,507.1 634.2,506.1 635,505.4 635.8,505.4 636.5,506.3 637.2,507.4 638,508 638.8,507.5 639.5,506.1 640.2,504.6 641,504.2 641.8,505.3 642.5,507.6 643.2,509.8 644,510.4 644.8,509 645.5,506.2 646.2,503.4 647,502.4 647.8,503.6 648.5,506.5 649.2,509.2 650,510.3 650.8,509.2 651.5,506.7 652.2,504.3 653,503.4 653.8,504.4 654.5,506.7 655.2,508.8 656,509.7 656.8,509 657.5,507.1 658.2,505.3 659,504.2 659.8,504.3 660.5,505.3 661.2,506.7 662,507.7 662.8,508.1 663.5,507.9 664.2,507.2 665,506.4 665.8,506 666.5,506 667.2,506.4 668,507 668.8,507.3 669.5,507.1 670.2,506.4 671,505.5 671.8,505.2 672.5,505.7 673.2,506.8 674,508 674.8,508.4 675.5,507.8 676.2,506.4 677,505.1 677.8,504.8 678.5,505.7 679.2,507.4 680,508.8 680.8,508.8 681.5,507.4 682.2,505.3 683,503.7 683.8,503.6 684.5,505.3 685.2,507.7 686,509.6 686.8,509.9 687.5,508.6 688.2,506.3 689,504.5 689.8,503.9 690.5,504.8 691.2,506.5 692,508 692.8,508.5 693.5,507.9 694.2,506.7 695,505.6 695.8,505.1 696.5,505.4 697.2,506.3 698,507.3 698.8,508 699.5,508.1 700.2,507.6 701,506.7 701.8,505.8 702.5,505.2 703.2,505.4 704,506.1 704.8,506.9 705.5,507.5 706.2,507.4 707,506.8 707.8,506.1 708.5,505.8 709.2,506.3 710,507.3 710.8,508.1 711.5,508.1 712.2,507 713,505.5 713.8,504.4 714.5,504.5 715.2,505.8 716,507.7 716.8,509 717.5,508.9 718.2,507.4 719,505.4 719.8,504.2 720.5,504.5 721.2,506.2 722,508.2 722.8,509.4 723.5,509 724.2,507.3 725,505.2 725.8,503.9 726.5,503.9 727.2,505.2 728,507.1 728.8,508.5 729.5,508.9 730.2,508.3 731,507.1 731.8,505.9 732.5,505.2 733.2,505.3 732.8,506.6 733.2,508 733.8,510.3 734.5,512.6 735.3,514.2 736.1,514.3 736.9,512 737.8,507.8 738.7,503.2 739.6,499.4 740.5,498 741.3,500.1 742.1,504.7 742.8,510.1 743.6,514.6 744.3,516.3 745.1,513.9 745.8,508.7 746.6,502.6 747.3,497.5 748,495.5 748.7,498 749.3,503.7 749.9,510.5 750.5,516 751.1,518.2 751.7,515.4 752.3,509.1 752.8,501.6 753.4,495.5 754,493.1 754.6,496.1 755.3,503 756,511.1 756.7,517.9 757.3,520.6 757.9,517.5 758.5,510.2 759.1,501.7 759.6,494.6 760.2,491.7 760.8,495 761.4,502.7 762,511.8 762.6,519.4 763.1,522.5 763.6,519.1 764.1,511.3 764.6,501.9 765,494 765.5,490.7 766,493.9 766.5,501.6 767,510.8 767.5,518.6 768,522 768.5,519.1 769,511.9 769.5,503.2 769.9,495.9 770.4,492.6 770.8,495.1 771.3,501.5 771.7,509.3 772.1,516.1 772.5,519.2 772.9,517.3 773.4,512 773.8,505.5 774.3,500 774.7,497.5 775.1,499.4 775.5,504.3 775.8,510.1 776.2,515.1 776.6,517.2 777,515.2 777.4,510.5 777.8,504.8 778.2,500.1 778.6,498 779,499.8 779.4,504.4 779.7,509.8 780.1,514.4 780.5,516.3 780.9,514.4 781.3,509.9 781.6,504.5 782,499.9 782.4,498 782.8,499.8 783.2,504.2 783.7,509.5 784.1,513.9 784.5,515.8 784.9,514 785.3,509.7 785.6,504.6 786,500.2 786.3,498.4 786.6,500.1 787,504.2 787.3,509.2 787.6,513.4 787.9,515.3 788.2,514 788.4,510.6 788.7,506.4 788.9,502.7 789.2,500.8 789.5,501.5 789.8,503.7 790,506.7 790.3,509.2 790.6,510.5 790.9,510.1 791.2,508.6 791.5,506.6 791.8,504.7 792,503.5 793,507.4 793.6,505.2 794.2,504.1 794.8,504.6 795.4,506.3 796,508.1 796.6,508.9 797.2,508.3 797.8,506.6 798.4,505.1 799,504.6 799.6,505.4 800.2,506.9 800.8,508.1 801.4,508.4 802,507.5 802.6,506.2 803.2,505.2 803.8,505.1 804.4,506 805,507.2 805.6,508 806.2,507.9 806.8,507 807.4,505.9 808,505.3 808.6,505.5 809.2,506.4 809.8,507.4 810.4,507.9 811,507.5 811.6,506.6 812.2,505.8 812.8,505.5 813.4,505.9 814,506.8 814.6,507.5 815.2,507.7 815.8,507.2 816.4,506.4 817,505.7 817.6,505.7 818.2,506.2 818.8,507 819.4,507.5 820,507.4 820.6,506.9 821.2,506.2 821.8,505.8 822.4,505.9 823,506.5 823.6,507.2 824.2,507.5 824.8,507.2 825.4,506.6 826,506 826.6,505.8 827.2,506.1 827.8,506.7 828.4,507.3 829,507.4 829.6,507 830.2,506.4 830.8,506 831.4,505.9 832,506.3 832.6,506.9 833.2,507.3 833.8,507.3 834.4,506.8 835,506.3 835.6,505.9 836.2,506.1 836.8,506.5 837.4,507.1 838,507.3 838.6,507.1 839.2,506.6 839.8,506.1 840.4,506 841,506.2 841.6,506.7 842.2,507.2 842.8,507.3 843.4,507 844,506.4 844.6,506 845.2,506 845.8,506.4 846.4,506.9 847,507.2 847.6,507.2 848.2,506.8 848.8,506.3 849.4,506 850,507.1 850.8,506.8 851.5,506.5 852.2,506.2 853,506.1 853.8,506.3 854.5,506.7 855.2,507 856,507.1 856.8,507 857.5,506.6 858.2,506.3 859,506.1 859.8,506.2 860.5,506.6 861.2,506.9 862,507.1 862.8,507.1 863.5,506.8 864.2,506.4 865,506.2 865.8,506.2 866.5,506.4 867.2,506.8 868,507.1 868.8,507.1 869.5,506.9 870.2,506.5 871,506.2 871.8,506.1 872.5,506.3 873.2,506.6 874,507 874.8,507.1 875.5,507 876.2,506.7 877,506.3 877.8,506.1 878.5,506.2 879.2,506.5 880,506.8 880.8,507.1 881.5,507.1 882.2,506.8 883,506.5 883.8,506.2 884.5,506.1 885.2,506.3 886,506.7 886.8,507 887.5,507.1 888.2,507 889,506.6 889.8,506.3 890.5,506.1 891.2,506.2 892,506.5 892.8,507 893.5,507.5 894.2,507.7 895,507.1 895.8,505.8 896.5,504.4 897.2,504.2 898,505.5 898.8,507.4 899.5,508.7 900.2,508.5 901,507.5 901.8,506.4 902.5,505.9 903.2,505.9 904,506.2 904.8,506.6 905.5,507 906.2,507.1 907,507 907.8,506.7 908.5,506.3 909.2,506.1 910,506.2 910.8,506.5 911.5,506.8 912.2,507.1 913,507.1 913.8,506.8 914.5,506.5 915.2,506.2 916,506.1 916.8,506.3 917.5,506.7 918.2,507 919,507.1 919.8,507 920.5,506.6 921.2,506.3 922,506.1 922.8,506.2 923.5,506.6 924.2,506.9 925,507.1 925.8,507.1 926.5,506.8 927.2,506.4 928,506.2 928.8,506.2 929.5,506.4 930.2,506.8 931,507.1 931.8,507.1 932.5,506.9 933.2,506.5 934,506.2 934.8,506.1 935.5,506.3 936.2,506.6 937,507 937.8,507.1 938.5,507 939.2,506.7 940,506.3 940.8,506.1 941.5,506.2 942.2,506.5 943,506.9 943.8,507.1 944.5,507.1 945.2,506.8 946,506.5 946.8,506.2 947.5,506.1 948.2,506.3 949,506.7 949.8,507.1 950.5,507.2 951.2,507 952,506.6 952.8,506.2 953.5,506 954.2,506.1 955,506.5 955.8,507.1 956.5,507.4 957.2,507.4 958,506.9 958.8,506.2 959.5,505.7 960.2,505.6 961,506.1 961.8,507 962.5,507.8 963.2,508 964,507.4 964.8,506.4 965.5,505.3 966.2,504.9 967,505.4 967.8,506.7 968.5,508 969.2,508.7 970,508.3 970.8,506.9 971.5,505.4 972.2,504.4 973,504.7 973.8,506 974.5,507.7 975.2,508.8 976,508.8 976.8,507.6 977.5,505.9 978.2,504.7 979,504.5 979.8,505.4 980.5,507 981.2,508.2 982,508.6 982.8,507.9 983.5,506.6 984.2,505.4 985,505 985.8,505.4 986.5,506.4 987.2,507.4 988,507.9 988.8,507.7 989.5,507 990.2,506.1 991,505.6 991.8,505.7 992.5,506.2 993.2,506.9 994,507.4 994.8,507.5 995.5,507.1 996.2,506.5 997,506 997.8,505.8 998.5,506.1 999.2,506.6 1000,507.2 1000.8,507.4 1001.5,507.2 1002.2,506.7 1003,506.2 1003.8,505.9 1004.5,505.9 1005.2,506.4 1006,507 1006.8,507.4 1007.5,507.4 1008.2,507 1009,506.3 1009.8,505.8 1010.5,505.7 1011.2,506.1 1012,506.8 1012.8,507.5 1013.5,507.8 1014.2,507.4 1015,506.6 1015.8,505.7 1016.5,505.2 1017.2,505.4 1018,506.4 1018.8,507.6 1019.5,508.4 1020.2,508.3 1021,507.2 1021.8,505.7 1022.5,504.5 1023.2,504.4 1024,505.6 1024.8,507.4 1025.5,508.9 1026.2,509.3 1027,508.2 1027.8,506.2 1028.5,504.3 1029.2,503.7 1030,504.6 1030.8,506.7 1031.5,508.7 1032.2,509.5 1033,508.9 1033.8,507 1034.5,505 1035.2,504 1036,504.4 1036.8,505.9 1037.5,507.7 1038.2,508.8 1039,508.7 1039.8,507.6 1040.5,506 1041.2,504.9 1042,504.7 1042.8,505.6 1043.5,506.9 1044.2,508 1045,508.3 1045.8,507.7 1046.5,506.6 1047.2,505.6 1048,505.1 1048.8,505.5 1049.5,506.4 1050.2,507.4 1051,508 1051.8,507.8 1052.5,507 1053.2,506 1054,505.4 1054.8,505.4 1055.5,506.1 1056.2,507 1057,507.7 1057.8,507.9 1058.5,507.3 1059.2,506.4 1060,505.6 1060.8,505.4 1061.5,505.8 1062.2,506.6 1063,507.5 1063.8,507.8 1064.5,507.5 1065.2,506.8 1066,506 1066.8,505.5 1067.5,505.7 1068.2,506.3 1069,507.1 1069.8,507.7 1070.5,507.6 1071.2,507.1 1072,506.3 1072.8,505.7 1073.5,505.6 1074.2,506.1 1075,506.8 1075.8,507.4 1076.5,507.6 1077.2,507.3 1078,506.6 1078.8,506 1079.5,505.7 1080.2,505.9 1081,506.5 1081.8,507.1 1082.5,507.5 1083.2,507.4 1084,506.9 1084.8,506.2 1085.5,505.8 1086.2,505.9 1087,506.3 1087.8,506.9 1088.5,507.3 1089.2,507.4 1090,507 1090.8,506.5 1091.5,506 1092.2,505.9 1093,506.1 1093.8,506.6 1094.5,507.1 1095.2,507.3 1096,507.2 1096.8,506.7 1097.5,506.2 1098.2,506 1099,506.1 1099.8,506.4 1100.5,506.9 1101.2,507.2 1102,507.2 1102.8,506.9 1103.5,506.4 1104.2,506.1 1105,506 1105.8,506.3 1106.5,506.7 1107.2,507.1 1108,507.2 1108.8,507 1109.5,506.6 1110.2,506.2 1111,506.1 1111.8,506.2 1112.5,506.5 1113.2,506.9 1114,507.2 1114.8,507.1 1115.5,506.8 1116.2,506.4 1117,506.1 1117.8,506.1 1118.5,506.4 1119.2,506.8 1120,507.1 1120.8,507.1 1121.5,506.9 1122.2,506.5 1123,506.2 1123.8,506.1 1124.5,506.3 1125.2,506.6 1126,507 1126.8,507.1 1127.5,507 1128.2,506.7 1129,506.3 1129.8,506.1 1130.5,506.2 1131.2,506.5 1132,506.9 1132.8,507.1 1133.5,507.1 1134.2,506.8 1135,506.5 1135.8,506.2 1136.5,506.1 1137.2,506.3 1138,506.7 1138.8,507 1139.5,507.1 1140.2,507 1141,506.6 1141.8,506.3 1142.5,506.1 1143.2,506.2 1144,506.6 1144.8,506.9 1145.5,507.1 1146.2,507.1 1147,506.8 1147.8,506.4 1148.5,506.2 1149.2,506.2 1150,506.4 1150.8,506.8 1151.5,507.1 1152.2,507.1 1153,506.9 1153.8,506.5 1154.5,506.2 1155.2,506.1 1156,506.3 1156.8,506.6 1157.5,507 1158.2,507.1 1159,507 1159.8,506.7 1160.5,506.3 1161.2,506.1 1162,506.2 1162.8,506.5 1163.5,506.8 1164.2,507.1 1165,507.1 1165.8,506.8 1166.5,506.5 1167.2,506.2 1168,506.1 1168.8,506.3 1169.5,506.7 1170.2,507 1171,507.1 1171.8,507 1172.5,506.6 1173.2,506.3 1174,506.1 1174.8,506.2 1175.5,506.6 1176.2,506.9 1177,507.1 1177.8,507.1 1178.5,506.8 1179.2,506.4 1180,506.2 1180.8,506.2 1181.5,506.4 1182.2,506.8 1183,507.1 1183.8,507.1 1184.5,506.9 1185.2,506.5 1186,506.2 1186.8,506.1 1187.5,506.3 1188.2,506.6 1189,507 1189.8,507.1 1190.5,507 1191.2,506.7 1192,506.3 1192.8,506.1 1193.5,506.2 1194.2,506.5 1195,506.8 1195.8,507.1 1196.5,507.1 1197.2,506.8 1198,506.5 1198.8,506.2 1199.5,506.1 1200.2,506.3 1201,506.7 1201.8,507 1202.5,507.1 1203.2,507 1204,506.6 1204.8,506.3 1205.5,506.1 1206.2,506.2 1207,506.6 1207.8,506.9 1208.5,507.1 1209.2,507.1 1210,506.8 1210.8,506.4 1211.5,506.2 1212.2,506.2 1213,506.4 1213.8,506.8 1214.5,507.1 1215.2,507.1 1216,506.9 1216.8,506.5 1217.5,506.2 1218.2,506.1 1219,506.3 1219.8,506.6 1220.5,507 1221.2,507.1 1222,507 1222.8,506.7 1223.5,506.3 1224.2,506.1 1225,506.2 1225.8,506.5 1226.5,506.8 1227.2,507.1 1228,507.1 1228.8,506.8 1229.5,506.5 1230.2,506.2 1231,506.1 1231.8,506.3 1232.5,506.7 1233.2,507 1234,507.1 1234.8,507 1235.5,506.6 1236.2,506.3 1237,506.1 1237.8,506.2 1238.5,506.6 1239.2,506.9 1240,507.1 1240.8,507.1 1241.5,506.8 1242.2,506.4 1243,506.2 1243.8,506.2 1244.5,506.4 1245.2,506.8 1246,507.1 1246.8,507.1 1247.5,506.9 1248.2,506.5 1249,506.2 1249.8,506.1 1250.5,506.3 1251.2,506.6 1252,507 1252.8,507.1 1253.5,507 1254.2,506.7 1255,506.3 1255.8,506.1 1256.5,506.2 1257.2,506.5 1258,506.8 1258.8,507.1 1259.5,507.1 1260.2,506.8 1261,506.5 1261.8,506.2 1262.5,506.1 1263.2,506.3 1264,506.7 1264.8,507 1265.5,507.1 1266.2,507 1267,506.6 1267.8,506.3 1268.5,506.1 1269.2,506.2 1270,506.6 1270.8,506.9 1271.5,507.1 1272.2,507.1 1273,506.8 1273.8,506.4 1274.5,506.2 1275.2,506.2 1276,506.4 1276.8,506.8 1277.5,507.1 1278.2,507.1 1279,506.9 1279.8,506.5 1280.5,506.2 1281.2,506.1 1282,506.3 1282.8,506.6 1283.5,507 1284.2,507.1 1285,507 1285.8,506.7 1286.5,506.3 1287.2,506.1 1288,506.2 1288.8,506.5 1289.5,506.8 1290.2,507.1 1291,507.1 1291.8,506.8 1292.5,506.5 1293.2,506.2 1294,506.1 1294.8,506.3 1295.5,506.7 1296.2,507" fill="none" stroke="#cdcd00" stroke-width="1.9" stroke-linejoin="round"/>
<g stroke="#bebebe" fill="none"><line x1="1135" y1="638.6" x2="1297" y2="638.6" stroke-width="5"/><line x1="1135" y1="631.4" x2="1135" y2="646" stroke-width="4.4"/><line x1="1297" y1="631.4" x2="1297" y2="646" stroke-width="4.4"/></g>
<line x1="331.8" y1="715.7" x2="1303.4" y2="692.9" stroke="#ff0000" stroke-width="4.3" stroke-linecap="round"/>
<polyline points="325.7,749.9 326.8,750.4 328.4,751.2 330.3,752.1 332.2,752.8 334.1,753.2 335.9,753 337.8,752.5 339.7,751.8 341.5,751.1 343.1,750.8 344.5,750.7 345.6,750.7 346.7,750.9 347.8,751.2 349.2,751.7 350.7,752.7 352.3,754.2 354,755.7 355.8,756.7 357.6,756.8 359.4,755.4 361.3,752.8 363.3,749.9 365.2,747.4 367.2,746.3 369.3,746.9 371.5,748.8 373.7,751.2 375.8,753.4 377.8,754.7 379.5,754.8 381,754.3 382.4,753.4 383.8,752.4 385.3,751.7 386.7,751 388.1,750.2 389.5,749.6 391,749.2 392.8,749.3 395,750.3 397.5,752.1 400.1,754.1 402.6,755.5 404.9,755.9 406.9,754.6 408.7,752 410.4,749 412.2,746.5 413.9,745.4 415.8,745.9 417.7,747.7 419.6,750 421.3,752.2 423,753.8 424.3,754.7 425.5,755.3 426.6,755.6 427.7,755.6 429,755.3 430.4,754.3 432,752.6 433.5,750.8 435.1,749.3 436.5,748.7 437.8,749.4 438.9,751.2 440,753.3 441.2,754.9 442.5,755.3 444,753.9 445.6,751.1 447.3,748 449,745.6 450.7,744.8 452.3,746.4 454,749.8 455.7,753.7 457.4,757.2 459.1,758.9 460.9,758.5 462.8,756.6 464.7,754 466.5,751.6 468.1,749.9 469.5,749 470.7,748.5 471.8,748.3 472.9,748.3 474.2,748.7 475.6,749.6 477.1,751.1 478.7,752.7 480.3,754.1 481.7,754.7 483,754.3 484.2,753.3 485.4,751.9 486.5,750.7 487.7,749.9 488.9,749.6 490,749.6 491.2,749.8 492.4,750.2 493.7,750.8 495.1,751.9 496.5,753.5 498,755.2 499.6,756.5 501.3,756.8 503.1,755.7 505.1,753.6 507.1,751.1 509.2,749 511.2,747.8 513.2,747.9 515.2,748.7 517.2,750 519.1,751.4 520.8,752.3 522.5,752.9 524,753.5 525.4,754 526.9,754.1 528.4,753.8 529.9,752.6 531.5,750.5 533.1,748.3 534.8,746.7 536.5,746.3 538.3,747.7 540.1,750.5 542,753.8 543.9,756.5 545.8,757.7 547.8,756.7 549.7,754.2 551.7,751.1 553.6,748.4 555.5,746.9 557.4,747 559.4,748.2 561.4,749.8 563.1,751.4 564.5,752.3 565.4,752.3 566,751.9 566.3,751.3 566.8,750.8 567.5,750.8 568.6,751.5 569.9,752.7 571.3,754.1 572.9,755.1 574.5,755.3 576.1,754.4 577.9,752.6 579.7,750.5 581.6,748.7 583.5,747.8 585.4,747.9 587.5,748.8 589.5,750.1 591.4,751.3 593.1,752.3 594.5,753 595.7,753.7 596.8,754.2 597.9,754.5 599.2,754.4 600.6,753.6 602.2,752.3 603.8,750.7 605.3,749.4 606.7,748.7 607.8,748.8 608.8,749.4 609.6,750.2 610.4,751 611.2,751.4 611.9,751.2 612.6,750.5 613.2,749.8 613.9,749.3 614.8,749.3 616,750 617.4,751.3 618.9,752.8 620.4,754 621.7,754.7 623,754.7 624.1,754.3 625.3,753.6 626.5,752.7 627.8,751.7 629.2,750.2 630.7,748.1 632.2,746.1 633.8,744.8 635.3,744.8 636.8,746.8 638.2,750.6 639.6,754.8 641.2,758.3 642.8,759.8 644.6,758.5 646.6,755.2 648.6,751.1 650.7,747.5 652.8,745.7 654.9,746.1 657.1,747.9 659.3,750.3 661.6,752.6 663.9,753.8 666.3,753.7 668.7,752.8 671.2,751.6 673.6,750.5 676,750.2 678.2,750.8 680.5,752.2 682.7,753.7 684.7,754.9 686.5,755.3 688,754.4 689.3,752.5 690.4,750.4 691.5,748.6 692.5,747.8 693.5,748.3 694.4,749.7 695.3,751.5 696.2,753 697,753.8 697.8,753.5 698.4,752.6 699.1,751.4 700.1,750.4 701.6,749.9 703.7,750.2 706.4,751.1 709.4,752.1 712.4,753 715.1,753.2 717.7,752.5 720.3,751.2 722.7,749.6 725.1,748.4 727.2,747.8 729,748.2 730.5,749.2 731.9,750.5 733.3,751.7 734.7,752.3 736.2,752 737.7,751.1 739.2,750 740.7,749.3 742.2,749.3 743.7,750.6 745.1,753 746.5,755.5 748.1,757.3 749.8,757.7 751.7,755.7 753.8,751.8 756,747.4 758.2,743.9 760.3,742.7 762.2,744.6 764,749 765.8,754.1 767.6,758.5 769.3,760.4 771.1,759 773,755.4 774.8,750.9 776.6,746.9 778.4,744.8 780.2,745.1 782.1,746.9 783.9,749.4 785.7,751.8 787.4,753.2 789,753.3 790.5,752.7 791.9,751.8 793.4,751 794.9,750.8 796.7,751.5 798.6,752.9 800.5,754.3 802.3,755.3 804,755.3 805.3,753.6 806.3,750.5 807.3,747.1 808.4,744.5 810,743.6 812.1,745.4 814.6,749.2 817.3,753.6 819.9,757.3 822.3,759 824.4,758 826.3,755.1 828.1,751.5 829.8,748.3 831.5,746.7 833.1,747.3 834.7,749.2 836.2,751.6 837.7,753.7 839.2,754.4 840.7,753.1 842.2,750.5 843.6,747.5 845.2,745.1 846.9,744.3 848.7,745.8 850.7,748.9 852.8,752.6 854.8,755.8 856.7,757.5 858.5,757 860.3,755 862.1,752.5 863.8,750.2 865.3,748.9 866.7,748.8 868,749.5 869.2,750.5 870.4,751.4 871.4,751.9 872.4,751.9 873.1,751.6 873.8,751.1 874.8,750.8 876.1,750.7 877.8,751.1 880,752 882.3,752.8 884.7,753.4 886.8,753.5 888.7,752.6 890.6,751 892.4,749.3 894.2,747.9 896,747.3 897.9,748.1 899.7,749.7 901.6,751.7 903.4,753.4 905.2,754.4 907.1,754.4 909,753.8 910.9,752.9 912.7,752 914.5,751.3 916.1,750.8 917.6,750.4 919,750 920.5,749.8 922.1,749.8 923.9,750.2 925.6,751 927.5,751.9 929.4,752.6 931.4,752.9 933.4,752.4 935.6,751.4 937.8,750.3 940,749.3 942.1,748.9 944.1,749.1 946.2,749.8 948.2,750.7 949.9,751.5 951.3,751.9 952.3,751.9 952.9,751.5 953.3,751.1 953.8,750.7 954.4,750.7 955.2,751.2 956.2,752 957.2,752.8 958.2,753.5 959,753.8 959.7,753.3 960.2,752.4 960.8,751.3 961.3,750.4 962.1,750.1 962.9,750.6 963.8,751.7 964.9,752.9 966,754 967.3,754.4 968.8,753.9 970.4,752.8 972.1,751.4 974,750.3 975.9,749.8 978,750.2 980.2,751.4 982.5,752.7 984.7,753.6 986.7,753.8 988.4,752.6 990,750.4 991.5,747.9 992.9,745.9 994.3,745.2 995.7,746.1 997,748.3 998.3,751 999.6,753.5 1001.1,755 1002.7,755.6 1004.5,755.7 1006.4,755.3 1008.1,754.7 1009.7,753.8 1011,752.2 1012,749.9 1013,747.6 1014,745.8 1015.2,745.2 1016.7,746.3 1018.4,748.9 1020.2,751.8 1022,754.5 1023.5,755.9 1024.8,755.8 1026,754.7 1027.1,753.1 1028.3,751.6 1029.7,750.7 1031.3,750.5 1033.2,750.7 1035.2,751.1 1037.1,751.3 1038.9,751.3 1040.5,750.7 1042.1,749.8 1043.6,748.8 1045.1,748.1 1046.6,748.2 1047.9,749.6 1049.2,752 1050.5,754.7 1051.8,756.7 1053.3,757.5 1055,756.2 1056.9,753.5 1058.8,750.2 1060.7,747.4 1062.5,746.1 1064.3,746.7 1066.1,748.7 1067.8,751.2 1069.5,753.4 1071.1,754.4 1072.7,753.7 1074.3,752 1075.8,749.8 1077.3,748 1078.8,747.3 1080.3,748.1 1081.7,750 1083.1,752.2 1084.7,754.1 1086.5,755 1088.7,754.5 1091.2,753.1 1093.8,751.4 1096.4,749.8 1098.8,749.2 1101,749.7 1103.1,751.1 1105.1,752.7 1107.2,754 1109.5,754.4 1112.2,753.3 1115,751.2 1117.9,748.8 1120.7,746.9 1123.4,746.1 1125.8,747.1 1128,749.3 1130.2,751.9 1132.2,754.2 1134.1,755.3 1135.9,754.8 1137.5,753.3 1139,751.3 1140.4,749.6 1141.8,748.9 1143.1,749.4 1144.2,750.9 1145.3,752.7 1146.5,754 1147.9,754.4 1149.6,753.2 1151.4,750.8 1153.3,748.1 1155.2,746 1157.2,745.2 1159.1,746.4 1161,749.1 1163,752.3 1165,754.9 1167,755.9 1169,754.7 1171.1,751.9 1173.2,748.5 1175.2,745.7 1177.1,744.6 1178.9,745.7 1180.5,748.6 1182.1,751.9 1183.7,754.7 1185.4,755.9 1187.4,754.7 1189.5,751.7 1191.6,748.2 1193.7,745.4 1195.6,744.6 1197.2,746.5 1198.7,750.5 1200.2,755 1201.6,758.9 1203.2,760.5 1205,759.2 1206.7,755.7 1208.6,751.4 1210.5,747.7 1212.5,745.8 1214.5,746.4 1216.7,748.5 1218.9,751.3 1221.1,753.8 1223.2,755 1225.2,754.5 1227.1,752.9 1228.9,750.9 1230.7,749.1 1232.4,748.2 1234.1,748.5 1235.8,749.6 1237.3,750.9 1238.8,752.1 1240.1,752.9 1241.3,752.9 1242.2,752.5 1243.1,752 1243.9,751.5 1244.7,751.3 1245.4,751.6 1245.8,752.3 1246.3,753 1246.9,753.5 1247.8,753.5 1249,752.8 1250.5,751.5 1252.2,750.1 1253.9,748.8 1255.5,748.2 1257,748.5 1258.5,749.3 1260.1,750.3 1261.6,751.3 1263.1,751.9 1264.7,752 1266.2,751.8 1267.8,751.4 1269.3,751.2 1270.8,751.3 1272.4,752 1273.9,753.1 1275.4,754.3 1277,755.2 1278.5,755.3 1280,754.3 1281.5,752.5 1283.1,750.3 1284.6,748.5 1286.2,747.6 1288,747.9 1290,749 1291.9,750.5 1293.6,751.9 1294.8,752.9" fill="none" stroke="#bebebe" stroke-width="1.5" stroke-linejoin="round"/>
<g stroke="#c8c8c8" stroke-width="1.4"><line x1="205" y1="503.4" x2="218.5" y2="503.4"/><line x1="205" y1="510.2" x2="218.5" y2="510.2"/><line x1="211.5" y1="503.4" x2="211.5" y2="510.2"/></g>
<circle cx="211.5" cy="506.8" r="3.8" fill="#000"/>
<text transform="translate(243.9,605.2) rotate(-90)" class="s" font-size="24.1">Typical noise level</text>
<g stroke="#000" fill="none">
<line x1="162.2" y1="110.7" x2="1460.5" y2="110.7" stroke-width="2.2"/>
<line x1="162.2" y1="902.6" x2="1460.5" y2="902.6" stroke-width="2.2"/>
<line x1="163.4" y1="109.7" x2="163.4" y2="903.6" stroke-width="2.9"/>
<line x1="1459.3" y1="109.7" x2="1459.3" y2="903.6" stroke-width="2.5"/>
<path d="M163.4 902.6v11.7M163.4 110.7v-11.7M179.6 902.6v5.8M179.6 110.7v-5.8M195.8 902.6v5.8M195.8 110.7v-5.8M212 902.6v5.8M212 110.7v-5.8M228.2 902.6v5.8M228.2 110.7v-5.8M244.4 902.6v5.8M244.4 110.7v-5.8M260.6 902.6v5.8M260.6 110.7v-5.8M276.8 902.6v5.8M276.8 110.7v-5.8M293 902.6v5.8M293 110.7v-5.8M309.2 902.6v5.8M309.2 110.7v-5.8M325.4 902.6v11.7M325.4 110.7v-11.7M341.6 902.6v5.8M341.6 110.7v-5.8M357.8 902.6v5.8M357.8 110.7v-5.8M374 902.6v5.8M374 110.7v-5.8M390.2 902.6v5.8M390.2 110.7v-5.8M406.4 902.6v5.8M406.4 110.7v-5.8M422.6 902.6v5.8M422.6 110.7v-5.8M438.8 902.6v5.8M438.8 110.7v-5.8M455 902.6v5.8M455 110.7v-5.8M471.2 902.6v5.8M471.2 110.7v-5.8M487.4 902.6v11.7M487.4 110.7v-11.7M503.6 902.6v5.8M503.6 110.7v-5.8M519.8 902.6v5.8M519.8 110.7v-5.8M536 902.6v5.8M536 110.7v-5.8M552.2 902.6v5.8M552.2 110.7v-5.8M568.4 902.6v5.8M568.4 110.7v-5.8M584.6 902.6v5.8M584.6 110.7v-5.8M600.8 902.6v5.8M600.8 110.7v-5.8M617 902.6v5.8M617 110.7v-5.8M633.2 902.6v5.8M633.2 110.7v-5.8M649.4 902.6v11.7M649.4 110.7v-11.7M665.6 902.6v5.8M665.6 110.7v-5.8M681.8 902.6v5.8M681.8 110.7v-5.8M698 902.6v5.8M698 110.7v-5.8M714.2 902.6v5.8M714.2 110.7v-5.8M730.4 902.6v5.8M730.4 110.7v-5.8M746.6 902.6v5.8M746.6 110.7v-5.8M762.8 902.6v5.8M762.8 110.7v-5.8M779 902.6v5.8M779 110.7v-5.8M795.2 902.6v5.8M795.2 110.7v-5.8M811.3 902.6v11.7M811.3 110.7v-11.7M827.5 902.6v5.8M827.5 110.7v-5.8M843.7 902.6v5.8M843.7 110.7v-5.8M859.9 902.6v5.8M859.9 110.7v-5.8M876.1 902.6v5.8M876.1 110.7v-5.8M892.3 902.6v5.8M892.3 110.7v-5.8M908.5 902.6v5.8M908.5 110.7v-5.8M924.7 902.6v5.8M924.7 110.7v-5.8M940.9 902.6v5.8M940.9 110.7v-5.8M957.1 902.6v5.8M957.1 110.7v-5.8M973.3 902.6v11.7M973.3 110.7v-11.7M989.5 902.6v5.8M989.5 110.7v-5.8M1005.7 902.6v5.8M1005.7 110.7v-5.8M1021.9 902.6v5.8M1021.9 110.7v-5.8M1038.1 902.6v5.8M1038.1 110.7v-5.8M1054.3 902.6v5.8M1054.3 110.7v-5.8M1070.5 902.6v5.8M1070.5 110.7v-5.8M1086.7 902.6v5.8M1086.7 110.7v-5.8M1102.9 902.6v5.8M1102.9 110.7v-5.8M1119.1 902.6v5.8M1119.1 110.7v-5.8M1135.3 902.6v11.7M1135.3 110.7v-11.7M1151.5 902.6v5.8M1151.5 110.7v-5.8M1167.7 902.6v5.8M1167.7 110.7v-5.8M1183.9 902.6v5.8M1183.9 110.7v-5.8M1200.1 902.6v5.8M1200.1 110.7v-5.8M1216.3 902.6v5.8M1216.3 110.7v-5.8M1232.5 902.6v5.8M1232.5 110.7v-5.8M1248.7 902.6v5.8M1248.7 110.7v-5.8M1264.9 902.6v5.8M1264.9 110.7v-5.8M1281.1 902.6v5.8M1281.1 110.7v-5.8M1297.3 902.6v11.7M1297.3 110.7v-11.7M1313.5 902.6v5.8M1313.5 110.7v-5.8M1329.7 902.6v5.8M1329.7 110.7v-5.8M1345.9 902.6v5.8M1345.9 110.7v-5.8M1362.1 902.6v5.8M1362.1 110.7v-5.8M1378.3 902.6v5.8M1378.3 110.7v-5.8M1394.5 902.6v5.8M1394.5 110.7v-5.8M1410.7 902.6v5.8M1410.7 110.7v-5.8M1426.9 902.6v5.8M1426.9 110.7v-5.8M1443.1 902.6v5.8M1443.1 110.7v-5.8M1459.3 902.6v11.7M1459.3 110.7v-11.7M163.4 902.6h-12M163.4 889.4h-5.8M163.4 876.2h-5.8M163.4 863h-5.8M163.4 849.8h-5.8M163.4 836.6h-5.8M163.4 823.4h-5.8M163.4 810.2h-5.8M163.4 797h-5.8M163.4 783.8h-5.8M163.4 770.6h-12M163.4 757.4h-5.8M163.4 744.2h-5.8M163.4 731h-5.8M163.4 717.8h-5.8M163.4 704.6h-5.8M163.4 691.4h-5.8M163.4 678.2h-5.8M163.4 665h-5.8M163.4 651.8h-5.8M163.4 638.6h-12M163.4 625.4h-5.8M163.4 612.2h-5.8M163.4 599h-5.8M163.4 585.8h-5.8M163.4 572.6h-5.8M163.4 559.4h-5.8M163.4 546.2h-5.8M163.4 533h-5.8M163.4 519.8h-5.8M163.4 506.6h-12M163.4 493.4h-5.8M163.4 480.2h-5.8M163.4 467h-5.8M163.4 453.8h-5.8M163.4 440.6h-5.8M163.4 427.4h-5.8M163.4 414.2h-5.8M163.4 401h-5.8M163.4 387.8h-5.8M163.4 374.6h-12M163.4 361.4h-5.8M163.4 348.2h-5.8M163.4 335h-5.8M163.4 321.8h-5.8M163.4 308.6h-5.8M163.4 295.4h-5.8M163.4 282.2h-5.8M163.4 269h-5.8M163.4 255.8h-5.8M163.4 242.6h-12M163.4 229.4h-5.8M163.4 216.2h-5.8M163.4 203h-5.8M163.4 189.8h-5.8M163.4 176.6h-5.8M163.4 163.4h-5.8M163.4 150.2h-5.8M163.4 137h-5.8M163.4 123.8h-5.8M163.4 110.7h-12M1459.3 902.6h11.7M1459.3 889.4h5.8M1459.3 876.2h5.8M1459.3 863h5.8M1459.3 849.8h5.8M1459.3 836.6h11.7M1459.3 823.4h5.8M1459.3 810.2h5.8M1459.3 797h5.8M1459.3 783.8h5.8M1459.3 770.6h11.7M1459.3 757.4h5.8M1459.3 744.2h5.8M1459.3 731h5.8M1459.3 717.8h5.8M1459.3 704.6h11.7M1459.3 691.4h5.8M1459.3 678.2h5.8M1459.3 665h5.8M1459.3 651.8h5.8M1459.3 638.6h11.7M1459.3 625.4h5.8M1459.3 612.2h5.8M1459.3 599h5.8M1459.3 585.8h5.8M1459.3 572.6h11.7M1459.3 559.4h5.8M1459.3 546.2h5.8M1459.3 533h5.8M1459.3 519.8h5.8M1459.3 499.4h5.8M1459.3 491.5h5.8M1459.3 483.6h5.8M1459.3 475.6h5.8M1459.3 467.6h5.8M1459.3 459.7h5.8M1459.3 451.7h5.8M1459.3 443.8h5.8M1459.3 435.9h5.8M1459.3 427.9h11.7M1459.3 419.9h5.8M1459.3 412h5.8M1459.3 404.1h5.8M1459.3 396.1h5.8M1459.3 388.1h5.8M1459.3 380.2h5.8M1459.3 372.2h5.8M1459.3 364.3h5.8M1459.3 356.4h5.8M1459.3 348.4h11.7M1459.3 340.4h5.8M1459.3 332.5h5.8M1459.3 324.6h5.8M1459.3 316.6h5.8M1459.3 308.6h5.8M1459.3 300.7h5.8M1459.3 292.7h5.8M1459.3 284.8h5.8M1459.3 276.9h5.8M1459.3 268.9h11.7M1459.3 260.9h5.8M1459.3 253h5.8M1459.3 245.1h5.8M1459.3 237.1h5.8M1459.3 229.1h5.8M1459.3 221.2h5.8M1459.3 213.2h5.8M1459.3 205.3h5.8M1459.3 197.4h5.8M1459.3 189.4h11.7M1459.3 181.4h5.8M1459.3 173.5h5.8M1459.3 165.6h5.8M1459.3 157.6h5.8M1459.3 149.6h5.8M1459.3 141.7h5.8M1459.3 133.7h5.8M1459.3 125.8h5.8M1459.3 117.9h5.8" stroke-width="1.1"/>
</g>
<line x1="1329.5" y1="110.7" x2="1362" y2="110.7" stroke="#0a6a6a" stroke-width="1.3"/>
<g font-size="27.8">
<text x="139.6" y="912.6" text-anchor="end">−3000</text>
<text x="139.6" y="780.6" text-anchor="end">−2000</text>
<text x="139.6" y="648.6" text-anchor="end">−1000</text>
<text x="139.6" y="516.6" text-anchor="end">0</text>
<text x="139.6" y="384.6" text-anchor="end">1000</text>
<text x="139.6" y="252.6" text-anchor="end">2000</text>
<text x="139.6" y="120.7" text-anchor="end">3000</text>
<text x="162.9" y="945.6" text-anchor="middle">−10</text>
<text x="325.4" y="945.6" text-anchor="middle">0</text>
<text x="487.4" y="945.6" text-anchor="middle">10</text>
<text x="649.4" y="945.6" text-anchor="middle">20</text>
<text x="811.3" y="945.6" text-anchor="middle">30</text>
<text x="973.3" y="945.6" text-anchor="middle">40</text>
<text x="1135.3" y="945.6" text-anchor="middle">50</text>
<text x="1297.3" y="945.6" text-anchor="middle">60</text>
<text x="1459.3" y="945.6" text-anchor="middle">70</text>
<text x="1482" y="437.9">994</text>
<text x="1482" y="358.4">995</text>
<text x="1482" y="278.9">996</text>
<text x="1482" y="199.4">997</text>
<text x="1560" y="912.6" text-anchor="end">−1500</text>
<text x="1560" y="846.6" text-anchor="end">−1000</text>
<text x="1560" y="780.6" text-anchor="end">−500</text>
<text x="1560" y="714.6" text-anchor="end">0</text>
<text x="1560" y="648.6" text-anchor="end">500</text>
<text x="1560" y="582.6" text-anchor="end">1000</text>
</g>
<g class="l" font-size="36">
<text transform="translate(34.1,675.8) rotate(-90)">Obs’d Gravity [nm/s<tspan font-size="25" dy="-12.7">2</tspan><tspan dy="12.7">]</tspan></text>
<text transform="translate(1582.9,427.8) rotate(-90)">Pressure [hPa]</text>
<text transform="translate(1615.1,800.1) rotate(-90)" font-size="36.25">Tide [nm/s<tspan font-size="25" dy="-12.7">2</tspan><tspan dy="12.7">]</tspan></text>
<text x="462.6" y="999.9">Time [min] from 2021−03−14 13:59:00 UTC</text>
</g>
<text transform="translate(1387,403.8) rotate(-90)" class="s" font-size="24.1">1 DIV = 0.5 hPa/h</text>
<text transform="translate(1427.6,410) rotate(-90)" class="s" font-size="24.1">average = −0.1538</text>
<text x="560" y="81.1" font-size="32.28" class="b" font-weight="bold">SCG_054 gravimeter Onsala Space Observatory, Sweden</text>
<text x="192.2" y="888.1" font-size="27.8" class="b" font-weight="bold">The latest 1−hour, 1−second sampling</text>
<text x="1430.2" y="888.1" font-size="27.8" class="b" font-weight="bold" text-anchor="end">End at 2021−03−14 14:58:59 UTC</text>
<rect x="166.6" y="18.4" width="372.9" height="162.8" fill="#fff" stroke="#666" stroke-width="1"/>
<line x1="204.2" y1="39.4" x2="260.1" y2="39.4" stroke="#0000ff" stroke-width="0.9"/><circle cx="232.1" cy="39.4" r="4.2" fill="#0000ff"/>
<line x1="204.2" y1="69.6" x2="260.1" y2="69.6" stroke="#00c8c8" stroke-width="0.9"/><circle cx="232.1" cy="69.6" r="4.2" fill="#00c8c8"/>
<line x1="204.2" y1="100.0" x2="260.1" y2="100.0" stroke="#000" stroke-width="2.8"/>
<line x1="204.2" y1="130.5" x2="260.1" y2="130.5" stroke="#bebebe" stroke-width="3.4"/>
<line x1="204.2" y1="161.1" x2="260.1" y2="161.1" stroke="#ff0000" stroke-width="0.9"/><circle cx="232.1" cy="161.1" r="4.2" fill="#ff0000"/>
<g class="s" font-size="24.1">
<text x="278.8" y="47.9">Pressure</text>
<text x="278.8" y="77.8">dP/dt low−passed</text>
<text x="278.8" y="108.6">Residual</text>
<text x="278.8" y="138.8">... last 10 min.</text>
<text x="278.8" y="169.2">Theor.Tide</text>
</g>
</svg></body></html>
